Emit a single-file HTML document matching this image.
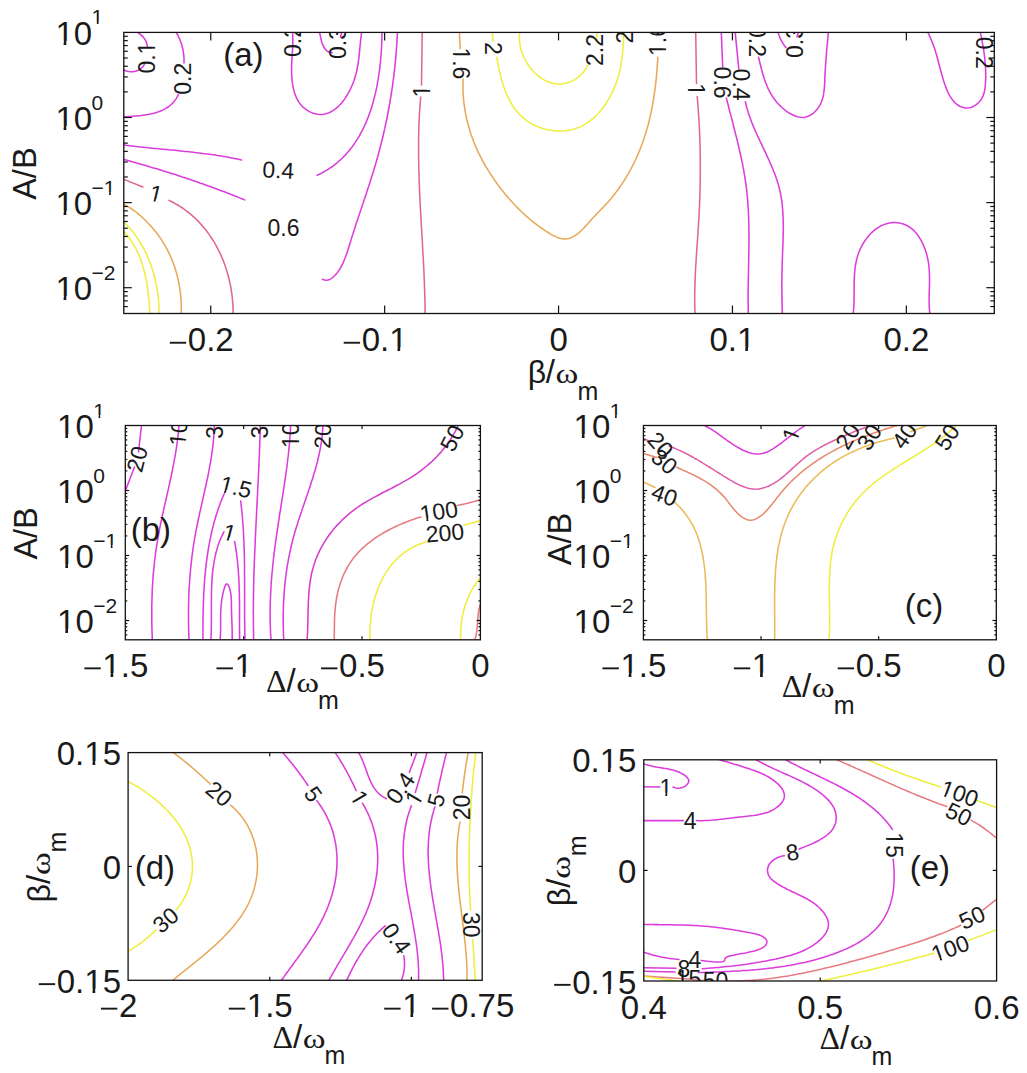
<!DOCTYPE html><html><head><meta charset="utf-8"><style>html,body{margin:0;padding:0;background:#fff;}svg{display:block;}text{font-family:"Liberation Sans",sans-serif;fill:#1a1a1a;}.g{font-family:"Liberation Serif",serif;}</style></head><body>
<svg width="1027" height="1073" viewBox="0 0 1027 1073">
<rect width="1027" height="1073" fill="#fff"/>
<defs>
<clipPath id="cpa"><rect x="123.8" y="32.4" width="870.5" height="281.1"/></clipPath>
<clipPath id="cpb"><rect x="125.3" y="425.5" width="355.1" height="214.3"/></clipPath>
<clipPath id="cpc"><rect x="643.4" y="425.5" width="352.9" height="214.3"/></clipPath>
<clipPath id="cpd"><rect x="128.1" y="752.6" width="354.1" height="227.7"/></clipPath>
<clipPath id="cpe"><rect x="643.8" y="759.8" width="352.8" height="221.2"/></clipPath>
</defs>
<g clip-path="url(#cpa)" fill="none" stroke-width="1.55" stroke-linejoin="round" stroke-linecap="round">
<path d="M137.5,32.4 L139.8,33.9 141.8,35.6 143.5,37.4 145.0,39.5 146.1,41.7 146.9,44.1 147.5,46.7" stroke="#dc3cdc"/>
<path d="M144.5,64.2 L143.2,66.2 141.6,68.0 139.7,69.4 137.7,70.5 135.5,71.3 133.1,71.7 130.8,71.8 128.4,71.6 126.2,71.0 124.0,70.0" stroke="#dc3cdc"/>
<path d="M176.1,32.4 L177.2,34.2 178.2,36.1 179.2,38.0 180.0,40.0 180.8,42.0 181.5,44.0 182.1,46.1 182.6,48.1 183.0,50.2 183.4,52.3 183.7,54.5 183.9,56.6 184.0,58.7 184.0,60.9 184.0,63.0" stroke="#dc3cdc"/>
<path d="M178.4,94.6 L177.3,96.7 176.2,98.6 174.9,100.4 173.6,102.0 172.1,103.6 170.6,105.0 169.0,106.3 167.3,107.5 165.5,108.6 163.7,109.6 161.8,110.5 159.8,111.3 157.9,112.0 155.8,112.7 153.8,113.2 151.7,113.8 149.5,114.2 147.4,114.6 145.2,114.9 143.1,115.2 140.9,115.5 138.7,115.7 136.6,115.9 134.4,116.1 132.3,116.3 130.1,116.4 128.1,116.5 126.0,116.7 124.0,116.8" stroke="#dc3cdc"/>
<path d="M124.0,145.0 L126.0,145.3 128.1,145.5 130.1,145.8 132.1,146.0 134.1,146.2 136.2,146.5 138.2,146.7 140.2,146.9 142.3,147.1 144.3,147.4 146.3,147.6 148.4,147.8 150.4,148.0 152.4,148.2 154.5,148.4 156.5,148.6 158.5,148.8 160.6,149.0 162.6,149.2 164.6,149.4 166.7,149.6 168.7,149.8 170.7,149.9 172.8,150.1 174.8,150.3 176.9,150.5 178.9,150.7 180.9,150.9 183.0,151.2 185.0,151.4 187.0,151.6 189.1,151.8 191.1,152.0 193.1,152.2 195.1,152.5 197.2,152.7 199.2,153.0 201.2,153.2 203.3,153.5 205.3,153.7 207.3,154.0 209.3,154.3 211.4,154.6 213.4,154.8 215.4,155.1 217.4,155.5 219.4,155.8 221.4,156.1 223.5,156.4 225.5,156.8 227.5,157.1 229.5,157.5 231.5,157.9 233.5,158.3 235.5,158.7 237.5,159.1 239.5,159.6 241.5,160.0" stroke="#dc3cdc"/>
<path d="M317.1,175.3 L319.0,174.4 320.9,173.5 322.8,172.5 324.6,171.4 326.4,170.4 328.2,169.3 329.9,168.2 331.6,167.0 333.3,165.8 334.9,164.6 336.4,163.3 338.0,162.0 339.5,160.7 341.0,159.3 342.4,158.0 343.8,156.5 345.2,155.1 346.6,153.6 347.9,152.1 349.2,150.6 350.4,149.1 351.7,147.5 352.8,145.9 354.0,144.2 355.1,142.6 356.2,140.9 357.3,139.2 358.4,137.5 359.4,135.8 360.4,134.0 361.3,132.2 362.3,130.4 363.2,128.6 364.1,126.8 364.9,125.0 365.7,123.1 366.6,121.2 367.3,119.3 368.1,117.4 368.8,115.5 369.5,113.5 370.2,111.6 370.9,109.6 371.5,107.6 372.1,105.7 372.7,103.7 373.3,101.7 373.8,99.6 374.3,97.6 374.8,95.6 375.3,93.6 375.8,91.5 376.2,89.5 376.7,87.4 377.1,85.4 377.5,83.3 377.8,81.2 378.2,79.2 378.5,77.1 378.8,75.0 379.1,73.0 379.4,70.9 379.7,68.8 379.9,66.8 380.1,64.7 380.4,62.6 380.6,60.6 380.7,58.5 380.9,56.5 381.1,54.4 381.2,52.4 381.4,50.3 381.5,48.3 381.6,46.3 381.7,44.3 381.8,42.3 381.8,40.3 381.9,38.3 381.9,36.3 382.0,34.4 382.0,32.4" stroke="#dc3cdc"/>
<path d="M124.0,159.5 L126.0,160.0 128.0,160.6 129.9,161.1 131.9,161.7 133.9,162.2 135.9,162.8 137.9,163.3 139.8,163.9 141.8,164.5 143.8,165.0 145.8,165.6 147.7,166.2 149.7,166.8 151.7,167.4 153.6,167.9 155.6,168.5 157.6,169.1 159.5,169.7 161.5,170.3 163.5,170.9 165.4,171.5 167.4,172.2 169.3,172.8 171.3,173.4 173.3,174.0 175.2,174.6 177.2,175.3 179.1,175.9 181.1,176.5 183.0,177.2 185.0,177.8 186.9,178.5 188.9,179.1 190.8,179.8 192.8,180.5 194.7,181.1 196.6,181.8 198.6,182.5 200.5,183.2 202.5,183.8 204.4,184.5 206.3,185.2 208.3,185.9 210.2,186.6 212.1,187.3 214.1,188.0 216.0,188.7 217.9,189.4 219.8,190.2 221.8,190.9 223.7,191.6 225.6,192.3 227.5,193.1 229.4,193.8 231.3,194.6 233.3,195.3 235.2,196.1 237.1,196.8 239.0,197.6 240.9,198.4 242.8,199.1 244.7,199.9" stroke="#dc3cdc"/>
<path d="M322.4,279.3 L324.4,280.1 326.3,280.3 328.0,280.0 329.6,279.4 331.2,278.6 332.7,277.5 334.0,276.3 335.3,275.0 336.6,273.6 337.7,272.1 338.8,270.6 339.8,269.0 340.8,267.4 341.7,265.6 342.6,263.9 343.5,262.1 344.2,260.2 345.0,258.3 345.7,256.4 346.4,254.5 347.1,252.5 347.8,250.5 348.4,248.5 349.0,246.5 349.6,244.5 350.3,242.5 350.9,240.4 351.5,238.4 352.1,236.4 352.8,234.4 353.4,232.5 354.0,230.5 354.7,228.5 355.3,226.6 355.9,224.6 356.6,222.6 357.2,220.7 357.9,218.8 358.5,216.8 359.1,214.9 359.8,213.0 360.4,211.0 361.1,209.1 361.7,207.2 362.3,205.3 363.0,203.4 363.6,201.5 364.3,199.6 364.9,197.7 365.5,195.8 366.2,193.9 366.8,192.0 367.4,190.1 368.0,188.2 368.7,186.3 369.3,184.4 369.9,182.5 370.5,180.6 371.1,178.7 371.7,176.8 372.3,174.9 372.9,173.0 373.5,171.1 374.1,169.2 374.6,167.3 375.2,165.3 375.8,163.4 376.3,161.5 376.9,159.6 377.4,157.7 378.0,155.7 378.5,153.8 379.0,151.9 379.5,149.9 380.0,148.0 380.5,146.0 381.0,144.1 381.5,142.1 382.0,140.2 382.5,138.2 383.0,136.3 383.4,134.3 383.9,132.3 384.3,130.4 384.8,128.4 385.2,126.4 385.6,124.4 386.0,122.5 386.5,120.5 386.9,118.5 387.3,116.5 387.7,114.5 388.0,112.5 388.4,110.5 388.8,108.5 389.2,106.5 389.5,104.5 389.9,102.6 390.2,100.6 390.5,98.6 390.9,96.6 391.2,94.6 391.5,92.5 391.8,90.5 392.1,88.5 392.4,86.5 392.7,84.5 392.9,82.5 393.2,80.5 393.5,78.5 393.7,76.5 394.0,74.5 394.2,72.5 394.4,70.5 394.7,68.5 394.9,66.5 395.1,64.4 395.3,62.4 395.5,60.4 395.7,58.4 395.9,56.4 396.0,54.4 396.2,52.4 396.3,50.4 396.5,48.4 396.6,46.4 396.8,44.4 396.9,42.4 397.0,40.4 397.1,38.4 397.2,36.4 397.3,34.4 397.4,32.4" stroke="#dc3cdc"/>
<path d="M124.0,179.4 L142.8,187.0" stroke="#e0659a"/>
<path d="M169.0,200.4 L170.9,201.3 172.8,202.3 174.6,203.2 176.4,204.3 178.2,205.3 179.9,206.4 181.7,207.5 183.4,208.7 185.0,209.9 186.7,211.1 188.3,212.3 189.9,213.6 191.4,214.9 193.0,216.3 194.5,217.6 195.9,219.0 197.4,220.4 198.8,221.9 200.2,223.4 201.5,224.9 202.9,226.4 204.2,228.0 205.4,229.5 206.7,231.1 207.9,232.8 209.1,234.4 210.2,236.1 211.4,237.8 212.5,239.5 213.6,241.2 214.6,242.9 215.6,244.7 216.6,246.5 217.6,248.3 218.5,250.1 219.4,251.9 220.3,253.8 221.1,255.6 221.9,257.5 222.7,259.4 223.5,261.3 224.2,263.2 224.9,265.2 225.6,267.1 226.2,269.1 226.8,271.0 227.4,273.0 228.0,275.0 228.5,277.0 229.0,279.0 229.5,281.0 229.9,283.0 230.4,285.0 230.7,287.0 231.1,289.0 231.4,291.1 231.7,293.1 232.0,295.1 232.2,297.2 232.4,299.2 232.6,301.3 232.8,303.3 232.9,305.3 233.0,307.4 233.1,309.4 233.1,311.5 233.1,313.5" stroke="#e0659a"/>
<path d="M124.0,204.5 L125.8,205.4 127.6,206.4 129.3,207.4 131.1,208.5 132.7,209.6 134.4,210.8 136.0,212.0 137.6,213.3 139.2,214.6 140.7,216.0 142.3,217.3 143.8,218.8 145.3,220.2 146.7,221.7 148.2,223.2 149.6,224.7 151.0,226.2 152.4,227.8 153.7,229.4 155.0,231.0 156.3,232.6 157.6,234.3 158.8,235.9 160.0,237.6 161.2,239.3 162.3,241.1 163.4,242.8 164.4,244.6 165.5,246.3 166.5,248.1 167.4,249.9 168.3,251.7 169.2,253.6 170.1,255.4 170.9,257.3 171.7,259.2 172.5,261.1 173.2,263.0 173.9,264.9 174.6,266.8 175.2,268.8 175.8,270.7 176.4,272.7 176.9,274.7 177.4,276.6 177.9,278.6 178.3,280.6 178.8,282.6 179.1,284.7 179.5,286.7 179.8,288.7 180.1,290.8 180.4,292.8 180.6,294.8 180.8,296.9 181.0,299.0 181.1,301.0 181.2,303.1 181.3,305.2 181.3,307.3 181.3,309.3 181.3,311.4 181.3,313.5" stroke="#e8a85a"/>
<path d="M124.0,222.3 L125.5,223.7 126.9,225.2 128.3,226.7 129.7,228.2 131.0,229.8 132.3,231.3 133.6,232.9 134.8,234.6 136.0,236.2 137.2,237.9 138.4,239.6 139.5,241.3 140.5,243.0 141.6,244.8 142.6,246.5 143.6,248.3 144.5,250.1 145.4,252.0 146.3,253.8 147.2,255.7 148.0,257.6 148.8,259.5 149.5,261.4 150.3,263.3 151.0,265.2 151.6,267.2 152.3,269.1 152.9,271.1 153.5,273.0 154.0,275.0 154.5,277.0 155.0,279.0 155.5,281.0 155.9,283.0 156.3,285.1 156.7,287.1 157.1,289.1 157.4,291.1 157.7,293.2 157.9,295.2 158.2,297.2 158.4,299.3 158.6,301.3 158.7,303.4 158.9,305.4 159.0,307.4 159.0,309.5 159.1,311.5 159.1,313.5" stroke="#eeee3c"/>
<path d="M124.0,231.7 L125.4,233.3 126.8,234.9 128.1,236.5 129.4,238.2 130.6,239.9 131.7,241.6 132.9,243.3 133.9,245.1 135.0,246.9 135.9,248.7 136.9,250.6 137.7,252.5 138.6,254.3 139.4,256.3 140.2,258.2 140.9,260.1 141.6,262.1 142.2,264.1 142.8,266.1 143.4,268.1 144.0,270.1 144.5,272.1 145.0,274.2 145.4,276.2 145.9,278.3 146.3,280.4 146.6,282.4 147.0,284.5 147.3,286.6 147.6,288.7 147.9,290.8 148.2,292.8 148.4,294.9 148.6,297.0 148.8,299.1 149.0,301.2 149.2,303.2 149.3,305.3 149.5,307.4 149.6,309.4 149.7,311.5 149.8,313.5" stroke="#eeee3c"/>
<path d="M292.6,32.4 L292.7,34.5 292.8,36.6 292.8,38.7 292.8,40.7 292.8,42.7 292.8,44.8 292.7,46.8 292.6,48.8 292.5,50.8 292.3,52.8 292.2,54.7 292.1,56.7 292.0,58.7 291.8,60.7 291.7,62.7 291.7,64.7 291.6,66.8 291.6,68.8 291.6,70.9 291.6,73.0 291.7,75.0 291.8,77.2 292.0,79.3 292.2,81.4 292.5,83.6 292.8,85.7 293.2,87.8 293.7,89.9 294.3,91.9 294.9,93.9 295.7,95.9 296.5,97.8 297.4,99.6 298.4,101.4 299.6,103.1 300.8,104.7 302.1,106.2 303.6,107.6 305.2,108.9 306.9,110.1 308.7,111.2 310.5,112.1 312.4,112.9 314.4,113.6 316.3,114.0 318.2,114.3 320.2,114.5 322.0,114.4 323.9,114.2 325.7,113.8 327.5,113.3 329.2,112.7 330.9,111.8 332.5,110.9 334.1,109.9 335.7,108.7 337.2,107.4 338.7,106.0 340.2,104.5 341.6,103.0 342.9,101.3 344.2,99.6 345.4,97.9 346.6,96.0 347.7,94.2 348.8,92.2 349.8,90.3 350.8,88.3 351.7,86.3 352.6,84.3 353.4,82.3 354.1,80.3 354.7,78.3 355.3,76.3 355.9,74.4 356.4,72.4 356.8,70.4 357.2,68.5 357.6,66.5 357.9,64.6 358.2,62.6 358.5,60.7 358.8,58.7 359.0,56.8 359.2,54.8 359.4,52.8 359.6,50.8 359.8,48.9 360.0,46.9 360.2,44.8 360.4,42.8 360.6,40.8 360.8,38.7 361.0,36.6 361.3,34.5 361.6,32.4" stroke="#dc3cdc"/>
<path d="M319.5,32.4 L320.0,34.4 320.5,36.6 321.0,39.0 321.6,41.5 322.4,43.9 323.4,46.2 324.5,48.3 326.0,50.1 327.7,51.5 329.8,52.3 332.3,52.5" stroke="#dc3cdc"/>
<path d="M340.5,37.3 L341.7,32.4" stroke="#dc3cdc"/>
<path d="M422.2,32.4 L421.5,85.0" stroke="#e0659a"/>
<path d="M420.7,97.0 L420.5,99.0 420.4,101.1 420.2,103.1 420.0,105.1 419.9,107.1 419.8,109.2 419.6,111.2 419.5,113.2 419.4,115.2 419.3,117.3 419.2,119.3 419.1,121.3 419.0,123.3 418.9,125.4 418.9,127.4 418.8,129.4 418.8,131.4 418.7,133.4 418.7,135.5 418.6,137.5 418.6,139.5 418.6,141.5 418.6,143.6 418.6,145.6 418.6,147.6 418.6,149.6 418.6,151.7 418.6,153.7 418.6,155.7 418.6,157.7 418.6,159.8 418.7,161.8 418.7,163.8 418.7,165.8 418.8,167.8 418.8,169.9 418.9,171.9 419.0,173.9 419.0,175.9 419.1,178.0 419.1,180.0 419.2,182.0 419.3,184.0 419.4,186.0 419.5,188.1 419.5,190.1 419.6,192.1 419.7,194.1 419.8,196.2 419.9,198.2 420.0,200.2 420.1,202.2 420.2,204.2 420.3,206.3 420.4,208.3 420.5,210.3 420.6,212.3 420.8,214.4 420.9,216.4 421.0,218.4 421.1,220.4 421.2,222.4 421.3,224.5 421.4,226.5 421.6,228.5 421.7,230.5 421.8,232.6 421.9,234.6 422.0,236.6 422.1,238.6 422.3,240.6 422.4,242.7 422.5,244.7 422.6,246.7 422.7,248.7 422.8,250.8 422.9,252.8 423.0,254.8 423.2,256.8 423.3,258.8 423.4,260.9 423.5,262.9 423.6,264.9 423.7,266.9 423.8,269.0 423.9,271.0 424.0,273.0 424.1,275.0 424.1,277.1 424.2,279.1 424.3,281.1 424.4,283.1 424.5,285.2 424.5,287.2 424.6,289.2 424.7,291.2 424.7,293.2 424.8,295.3 424.8,297.3 424.9,299.3 424.9,301.3 425.0,303.4 425.0,305.4 425.0,307.4 425.1,309.4 425.1,311.5 425.1,313.5" stroke="#e0659a"/>
<path d="M459.4,32.4 L460.2,48.4" stroke="#e8a85a"/>
<path d="M463.1,79.1 L463.0,81.2 463.0,83.2 462.9,85.3 462.9,87.4 463.0,89.4 463.0,91.5 463.1,93.5 463.3,95.6 463.4,97.6 463.6,99.6 463.8,101.6 464.0,103.6 464.3,105.6 464.6,107.6 464.9,109.6 465.2,111.6 465.6,113.6 466.0,115.6 466.4,117.5 466.8,119.5 467.3,121.4 467.8,123.4 468.3,125.3 468.8,127.2 469.4,129.2 470.0,131.1 470.6,133.0 471.2,134.9 471.9,136.8 472.6,138.6 473.3,140.5 474.0,142.4 474.8,144.2 475.5,146.1 476.3,147.9 477.1,149.7 478.0,151.5 478.8,153.4 479.7,155.2 480.6,156.9 481.5,158.7 482.5,160.5 483.4,162.3 484.4,164.0 485.4,165.8 486.4,167.5 487.4,169.2 488.5,170.9 489.6,172.6 490.7,174.3 491.8,176.0 492.9,177.7 494.0,179.4 495.2,181.0 496.4,182.7 497.5,184.3 498.7,185.9 500.0,187.5 501.2,189.1 502.5,190.7 503.7,192.3 505.0,193.9 506.3,195.4 507.6,197.0 508.9,198.5 510.3,200.0 511.6,201.5 513.0,203.0 514.4,204.5 515.8,206.0 517.2,207.4 518.6,208.9 520.1,210.3 521.5,211.7 523.0,213.1 524.5,214.5 526.0,215.8 527.5,217.2 529.1,218.5 530.6,219.8 532.2,221.1 533.8,222.4 535.4,223.7 537.0,224.9 538.6,226.1 540.3,227.3 542.0,228.5 543.7,229.7 545.4,230.8 547.1,231.9 548.8,233.0 550.6,234.1 552.4,235.1 554.2,236.0 556.0,236.9 557.8,237.6 559.6,238.2 561.4,238.6 563.2,238.9 565.1,238.9 566.9,238.8 568.7,238.4 570.5,237.9 572.2,237.1 573.9,236.3 575.6,235.2 577.2,234.1 578.8,232.8 580.4,231.4 581.9,230.0 583.4,228.5 584.9,226.9 586.4,225.3 587.8,223.7 589.3,222.0 590.7,220.4 592.1,218.8 593.6,217.3 595.0,215.8 596.4,214.3 597.8,212.8 599.2,211.4 600.6,210.0 601.9,208.6 603.3,207.2 604.7,205.8 606.0,204.3 607.3,202.9 608.6,201.4 609.9,199.9 611.2,198.4 612.5,196.8 613.7,195.3 614.9,193.7 616.1,192.1 617.3,190.5 618.5,188.9 619.7,187.2 620.8,185.6 622.0,183.9 623.1,182.2 624.2,180.5 625.2,178.8 626.3,177.1 627.3,175.3 628.4,173.6 629.4,171.8 630.3,170.0 631.3,168.3 632.2,166.5 633.2,164.6 634.1,162.8 635.0,161.0 635.8,159.2 636.7,157.3 637.5,155.5 638.3,153.6 639.1,151.8 639.8,149.9 640.6,148.0 641.3,146.1 642.0,144.2 642.7,142.3 643.4,140.4 644.0,138.5 644.6,136.6 645.2,134.7 645.8,132.7 646.4,130.8 647.0,128.9 647.5,126.9 648.1,125.0 648.6,123.0 649.1,121.1 649.5,119.1 650.0,117.2 650.5,115.2 650.9,113.2 651.3,111.2 651.7,109.3 652.1,107.3 652.5,105.3 652.8,103.3 653.2,101.3 653.5,99.3 653.8,97.3 654.1,95.3 654.4,93.3 654.7,91.3 655.0,89.3 655.2,87.3 655.5,85.3 655.7,83.3 655.9,81.3 656.2,79.3 656.4,77.3 656.5,75.3 656.7,73.3 656.9,71.2 657.0,69.2 657.2,67.2 657.3,65.2 657.5,63.2 657.6,61.2 657.7,59.2 657.8,57.2" stroke="#e8a85a"/>
<path d="M492.3,32.4 L493.0,41.1" stroke="#eeee3c"/>
<path d="M496.7,57.2 L497.0,59.1 497.4,60.9 497.7,62.8 498.1,64.8 498.5,66.7 498.9,68.7 499.3,70.7 499.8,72.7 500.3,74.7 500.8,76.7 501.3,78.7 501.9,80.7 502.5,82.7 503.1,84.7 503.8,86.7 504.5,88.7 505.2,90.7 506.0,92.6 506.8,94.6 507.7,96.5 508.6,98.3 509.5,100.2 510.5,102.0 511.6,103.8 512.6,105.5 513.8,107.3 514.9,108.9 516.2,110.5 517.5,112.1 518.8,113.6 520.2,115.1 521.7,116.5 523.2,117.8 524.7,119.1 526.4,120.3 528.0,121.5 529.7,122.6 531.5,123.6 533.3,124.6 535.1,125.5 537.0,126.3 538.9,127.1 540.8,127.8 542.7,128.4 544.7,129.0 546.7,129.5 548.7,129.9 550.7,130.3 552.7,130.5 554.7,130.8 556.7,130.9 558.7,131.0 560.7,131.0 562.7,130.9 564.7,130.8 566.7,130.6 568.7,130.3 570.6,129.9 572.5,129.4 574.4,128.9 576.3,128.3 578.1,127.6 579.9,126.9 581.7,126.1 583.4,125.2 585.1,124.2 586.7,123.2 588.4,122.1 590.0,120.9 591.5,119.7 593.0,118.4 594.5,117.1 596.0,115.7 597.4,114.3 598.8,112.8 600.1,111.2 601.4,109.7 602.7,108.1 603.9,106.4 605.1,104.7 606.3,103.0 607.4,101.2 608.5,99.4 609.5,97.6 610.5,95.7 611.5,93.9 612.4,92.0 613.3,90.0 614.1,88.1 614.9,86.2 615.7,84.2 616.4,82.2 617.1,80.2 617.8,78.3 618.4,76.3 618.9,74.3 619.4,72.3 619.9,70.3 620.3,68.3 620.7,66.3 621.1,64.3 621.4,62.3 621.7,60.3 622.0,58.3 622.2,56.4 622.4,54.4 622.6,52.4 622.8,50.4 623.0,48.4 623.1,46.4 623.2,44.4 623.4,42.4 623.5,40.4 623.6,38.4 623.7,36.4 623.9,34.4 624.0,32.4" stroke="#eeee3c"/>
<path d="M519.7,32.4 L519.5,34.4 519.4,36.5 519.4,38.5 519.5,40.6 519.7,42.7 520.0,44.8 520.4,46.8 520.9,48.9 521.4,51.0 522.1,53.0 522.9,55.0 523.7,57.0 524.7,58.9 525.7,60.8 526.7,62.7 527.9,64.5 529.1,66.3 530.4,68.0 531.8,69.6 533.2,71.2 534.6,72.7 536.2,74.2 537.7,75.5 539.3,76.8 541.0,78.0 542.7,79.1 544.5,80.1 546.3,81.0 548.1,81.8 549.9,82.5 551.8,83.0 553.7,83.4 555.6,83.8 557.6,83.9 559.5,84.0 561.5,83.9 563.5,83.7 565.5,83.3 567.4,82.8 569.3,82.2 571.2,81.4 573.1,80.6 574.9,79.6 576.6,78.4 578.3,77.2 579.9,75.8 581.5,74.3 582.9,72.7 584.3,71.0 585.5,69.2 586.6,67.2 587.6,65.2" stroke="#eeee3c"/>
<path d="M596.4,41.1 L597.1,32.4" stroke="#eeee3c"/>
<path d="M695.7,32.4 L696.5,83.5" stroke="#e0659a"/>
<path d="M697.2,96.6 L697.4,98.6 697.6,100.7 697.7,102.7 697.9,104.7 698.0,106.7 698.2,108.8 698.3,110.8 698.5,112.8 698.6,114.9 698.8,116.9 698.9,118.9 699.0,120.9 699.1,123.0 699.2,125.0 699.3,127.0 699.4,129.1 699.5,131.1 699.6,133.1 699.7,135.1 699.8,137.2 699.9,139.2 699.9,141.2 700.0,143.2 700.0,145.3 700.1,147.3 700.1,149.3 700.2,151.3 700.2,153.4 700.2,155.4 700.3,157.4 700.3,159.4 700.3,161.5 700.3,163.5 700.3,165.5 700.3,167.5 700.3,169.6 700.3,171.6 700.3,173.6 700.3,175.6 700.3,177.7 700.2,179.7 700.2,181.7 700.2,183.7 700.1,185.8 700.1,187.8 700.0,189.8 700.0,191.8 699.9,193.9 699.9,195.9 699.8,197.9 699.7,200.0 699.6,202.0 699.6,204.0 699.5,206.0 699.4,208.1 699.3,210.1 699.2,212.1 699.1,214.1 699.0,216.2 698.9,218.2 698.8,220.2 698.6,222.2 698.5,224.3 698.4,226.3 698.2,228.3 698.1,230.3 698.0,232.4 697.8,234.4 697.7,236.4 697.6,238.4 697.4,240.5 697.3,242.5 697.2,244.5 697.0,246.5 696.9,248.6 696.7,250.6 696.6,252.6 696.5,254.6 696.3,256.7 696.2,258.7 696.1,260.7 696.0,262.8 695.8,264.8 695.7,266.8 695.6,268.8 695.5,270.9 695.4,272.9 695.3,274.9 695.2,277.0 695.1,279.0 695.1,281.0 695.0,283.0 694.9,285.1 694.9,287.1 694.8,289.1 694.8,291.2 694.8,293.2 694.7,295.2 694.7,297.2 694.7,299.3 694.7,301.3 694.7,303.3 694.8,305.4 694.8,307.4 694.9,309.4 694.9,311.5 695.0,313.5" stroke="#e0659a"/>
<path d="M721.3,32.4 L722.7,67.0" stroke="#dc3cdc"/>
<path d="M726.4,98.1 L726.9,100.1 727.4,102.1 727.9,104.0 728.4,106.0 728.9,108.0 729.4,110.0 729.9,111.9 730.4,113.9 731.0,115.9 731.5,117.9 732.0,119.8 732.5,121.8 733.0,123.8 733.5,125.8 734.0,127.7 734.5,129.7 735.0,131.7 735.5,133.7 736.0,135.6 736.5,137.6 737.0,139.6 737.5,141.6 738.0,143.6 738.4,145.5 738.9,147.5 739.4,149.5 739.8,151.5 740.3,153.5 740.7,155.5 741.1,157.5 741.6,159.4 742.0,161.4 742.4,163.4 742.8,165.4 743.1,167.4 743.5,169.4 743.9,171.4 744.2,173.4 744.6,175.4 744.9,177.4 745.2,179.4 745.5,181.4 745.8,183.4 746.1,185.4 746.3,187.4 746.6,189.4 746.8,191.4 747.0,193.4 747.2,195.5 747.4,197.5 747.6,199.5 747.7,201.5 747.9,203.5 748.0,205.6 748.2,207.6 748.3,209.6 748.4,211.6 748.5,213.7 748.6,215.7 748.6,217.7 748.7,219.8 748.8,221.8 748.8,223.8 748.9,225.9 748.9,227.9 748.9,229.9 748.9,232.0 749.0,234.0 749.0,236.0 749.0,238.1 749.0,240.1 749.0,242.2 748.9,244.2 748.9,246.2 748.9,248.3 748.9,250.3 748.8,252.4 748.8,254.4 748.8,256.4 748.7,258.5 748.7,260.5 748.7,262.6 748.6,264.6 748.6,266.6 748.5,268.7 748.5,270.7 748.5,272.8 748.4,274.8 748.4,276.9 748.3,278.9 748.3,280.9 748.3,283.0 748.2,285.0 748.2,287.1 748.2,289.1 748.2,291.1 748.1,293.2 748.1,295.2 748.1,297.2 748.1,299.3 748.1,301.3 748.1,303.3 748.2,305.4 748.2,307.4 748.2,309.4 748.3,311.5 748.3,313.5" stroke="#dc3cdc"/>
<path d="M735.2,32.4 L738.8,68.9" stroke="#dc3cdc"/>
<path d="M745.4,101.8 L745.8,103.8 746.3,105.7 746.8,107.7 747.4,109.6 748.0,111.6 748.6,113.5 749.2,115.4 749.9,117.3 750.6,119.2 751.3,121.1 752.0,123.0 752.8,124.9 753.5,126.7 754.3,128.6 755.1,130.5 756.0,132.3 756.8,134.2 757.6,136.0 758.5,137.9 759.4,139.7 760.2,141.6 761.1,143.4 762.0,145.2 762.8,147.1 763.7,148.9 764.6,150.8 765.5,152.6 766.3,154.4 767.2,156.3 768.0,158.1 768.9,160.0 769.7,161.8 770.5,163.7 771.3,165.5 772.1,167.4 772.9,169.2 773.6,171.1 774.4,173.0 775.1,174.8 775.8,176.7 776.4,178.6 777.1,180.5 777.7,182.4 778.2,184.3 778.8,186.2 779.3,188.2 779.7,190.1 780.2,192.0 780.6,194.0 780.9,195.9 781.3,197.9 781.6,199.9 781.9,201.9 782.1,203.9 782.3,205.9 782.5,207.9 782.7,209.9 782.8,211.9 782.9,213.9 783.0,215.9 783.1,217.9 783.2,220.0 783.2,222.0 783.3,224.0 783.3,226.1 783.3,228.1 783.3,230.2 783.2,232.2 783.2,234.3 783.2,236.3 783.1,238.4 783.0,240.4 783.0,242.5 782.9,244.5 782.8,246.6 782.7,248.6 782.7,250.7 782.6,252.8 782.5,254.8 782.4,256.8 782.4,258.9 782.3,260.9 782.2,263.0 782.2,265.0 782.1,267.0 782.1,269.1 782.0,271.1 782.0,273.1 781.9,275.2 781.9,277.2 781.9,279.2 781.9,281.2 781.9,283.3 781.8,285.3 781.8,287.3 781.9,289.3 781.9,291.3 781.9,293.4 781.9,295.4 781.9,297.4 782.0,299.4 782.0,301.4 782.1,303.4 782.1,305.4 782.2,307.5 782.2,309.5 782.3,311.5 782.4,313.5" stroke="#dc3cdc"/>
<path d="M758.5,57.2 L759.0,59.2 759.5,61.3 760.0,63.3 760.5,65.3 761.0,67.3 761.5,69.3 762.1,71.3 762.6,73.2 763.2,75.2 763.8,77.1 764.4,79.0 765.1,80.9 765.7,82.8 766.5,84.6 767.2,86.5 768.0,88.3 768.9,90.1 769.8,91.8 770.8,93.6 771.8,95.3 772.9,97.0 774.0,98.6 775.2,100.3 776.5,101.9 777.9,103.5 779.4,105.0 780.9,106.5 782.5,108.0 784.2,109.4 785.9,110.8 787.7,112.1 789.6,113.3 791.5,114.3 793.4,115.3 795.3,116.0 797.3,116.7 799.2,117.1 801.1,117.3 803.0,117.4 804.8,117.2 806.6,116.8 808.3,116.2 810.0,115.4 811.6,114.4 813.2,113.3 814.6,112.0 816.0,110.6 817.3,109.0 818.5,107.4 819.6,105.7 820.6,103.8 821.4,102.0 822.1,100.0 822.7,98.0 823.2,96.0 823.6,93.9 823.9,91.8 824.2,89.7 824.4,87.5 824.5,85.4 824.7,83.3 824.8,81.1 824.8,79.0 824.9,76.9 825.0,74.8 825.1,72.8 825.2,70.8 825.4,68.7 825.5,66.7 825.6,64.7 825.7,62.8 825.9,60.8 826.0,58.8 826.2,56.8 826.3,54.8 826.5,52.9 826.6,50.9 826.8,48.9 827.0,46.9 827.2,44.9 827.4,42.8 827.6,40.8 827.8,38.7 828.0,36.6 828.2,34.5 828.4,32.4" stroke="#dc3cdc"/>
<path d="M778.0,32.4 L778.8,34.8 779.7,37.1 780.7,39.3 781.8,41.5 783.1,43.7 784.5,45.7 786.0,47.7" stroke="#dc3cdc"/>
<path d="M797.0,36.8 L798.5,32.4" stroke="#dc3cdc"/>
<path d="M853.2,313.5 L853.4,311.5 853.6,309.5 853.8,307.5 853.9,305.5 854.0,303.5 854.0,301.5 854.1,299.4 854.1,297.4 854.1,295.4 854.1,293.3 854.1,291.3 854.1,289.3 854.1,287.2 854.2,285.2 854.2,283.2 854.2,281.1 854.3,279.1 854.3,277.1 854.5,275.1 854.6,273.0 854.8,271.0 855.0,269.0 855.2,267.0 855.5,265.0 855.9,263.0 856.3,261.1 856.7,259.1 857.3,257.1 857.9,255.2 858.5,253.3 859.3,251.3 860.1,249.4 861.0,247.5 861.9,245.7 863.0,243.8 864.1,242.0 865.2,240.3 866.5,238.6 867.8,236.9 869.1,235.3 870.6,233.8 872.0,232.3 873.6,230.9 875.1,229.7 876.8,228.4 878.5,227.3 880.2,226.3 882.0,225.4 883.8,224.6 885.6,223.9 887.5,223.4 889.5,223.0 891.5,222.7 893.5,222.5 895.5,222.5 897.5,222.7 899.5,223.0 901.4,223.4 903.3,224.0 905.1,224.7 906.8,225.5 908.5,226.4 910.1,227.5 911.6,228.7 913.1,229.9 914.5,231.3 915.8,232.7 917.1,234.3 918.3,235.9 919.4,237.6 920.5,239.3 921.5,241.2 922.4,243.0 923.3,244.9 924.1,246.9 924.9,248.8 925.6,250.9 926.2,252.9 926.8,254.9 927.3,257.0 927.8,259.0 928.2,261.1 928.5,263.1 928.8,265.2 929.0,267.2 929.2,269.2 929.3,271.2 929.4,273.2 929.5,275.2 929.5,277.2 929.5,279.2 929.5,281.2 929.5,283.2 929.5,285.2 929.4,287.2 929.3,289.2 929.3,291.2 929.2,293.2 929.2,295.2 929.2,297.2 929.1,299.2 929.1,301.2 929.2,303.3 929.2,305.3 929.3,307.3 929.4,309.4 929.6,311.4 929.8,313.5" stroke="#dc3cdc"/>
<path d="M927.8,32.4 L928.8,34.4 929.7,36.3 930.6,38.3 931.4,40.2 932.2,42.1 932.9,43.9 933.6,45.8 934.3,47.7 934.9,49.5 935.5,51.4 936.0,53.2 936.6,55.1 937.1,57.0 937.6,58.8 938.1,60.7 938.6,62.6 939.1,64.5 939.6,66.4 940.1,68.3 940.6,70.3 941.2,72.3 941.7,74.3 942.3,76.3 942.9,78.4 943.5,80.5 944.2,82.6 944.9,84.7 945.7,86.8 946.5,88.9 947.3,90.9 948.2,92.9 949.2,94.8 950.3,96.6 951.4,98.4 952.6,100.0 953.9,101.6 955.2,103.0 956.7,104.2 958.2,105.3 959.9,106.2 961.6,107.0 963.4,107.6 965.3,107.9 967.1,108.0 969.0,107.8 970.8,107.4 972.6,106.8 974.3,105.9 975.9,104.9 977.5,103.7 978.9,102.3 980.2,100.8 981.4,99.1 982.4,97.4 983.2,95.5 983.9,93.5 984.4,91.5 984.8,89.4 985.1,87.3 985.3,85.2 985.5,83.0 985.6,80.9 985.7,78.8 985.7,76.7 985.7,74.6 985.7,72.5 985.6,70.4 985.6,68.4 985.4,66.4 985.3,64.3 985.1,62.3 985.0,60.3 984.8,58.3 984.5,56.3 984.3,54.3 984.0,52.3 983.7,50.4 983.4,48.4 983.1,46.4 982.7,44.4 982.3,42.4 982.0,40.4 981.6,38.4 981.2,36.4 980.7,34.4 980.3,32.4" stroke="#dc3cdc"/>
</g>
<g clip-path="url(#cpb)" fill="none" stroke-width="1.55" stroke-linejoin="round" stroke-linecap="round">
<path d="M141.5,425.7 L138.5,452.0" stroke="#dc3cdc"/>
<path d="M134.5,467.0 L125.3,490.9" stroke="#dc3cdc"/>
<path d="M178.9,425.7 L178.8,427.7 178.6,429.7 178.4,431.7 178.2,433.8 178.0,435.8 177.8,437.8 177.5,439.8 177.3,441.8 177.0,443.8 176.7,445.8 176.4,447.8 176.1,449.8 175.8,451.8 175.5,453.7 175.1,455.7 174.8,457.7 174.4,459.7 174.0,461.7 173.7,463.7 173.3,465.7 172.9,467.6 172.5,469.6 172.1,471.6 171.7,473.6 171.3,475.6 170.9,477.5 170.4,479.5 170.0,481.5 169.6,483.5 169.1,485.4 168.7,487.4 168.3,489.4 167.8,491.4 167.4,493.3 166.9,495.3 166.5,497.3 166.0,499.3 165.6,501.2 165.1,503.2 164.7,505.2 164.3,507.1 163.8,509.1 163.4,511.1 162.9,513.1 162.5,515.0 162.1,517.0 161.7,519.0 161.2,521.0 160.8,523.0 160.4,524.9 160.0,526.9 159.6,528.9 159.3,530.9 158.9,532.9 158.5,534.8 158.1,536.8 157.8,538.8 157.5,540.8 157.1,542.8 156.8,544.8 156.5,546.8 156.2,548.8 155.9,550.8 155.6,552.8 155.4,554.8 155.1,556.8 154.9,558.8 154.6,560.8 154.4,562.8 154.2,564.8 154.0,566.8 153.8,568.8 153.6,570.8 153.4,572.8 153.2,574.8 153.1,576.8 152.9,578.9 152.8,580.9 152.7,582.9 152.6,584.9 152.4,586.9 152.3,588.9 152.2,591.0 152.2,593.0 152.1,595.0 152.0,597.0 152.0,599.0 151.9,601.1 151.9,603.1 151.8,605.1 151.8,607.1 151.8,609.2 151.8,611.2 151.8,613.2 151.8,615.3 151.8,617.3 151.8,619.3 151.8,621.3 151.8,623.4 151.9,625.4 151.9,627.4 152.0,629.5 152.0,631.5 152.1,633.5 152.2,635.5 152.2,637.6 152.3,639.6" stroke="#dc3cdc"/>
<path d="M214.3,425.7 L214.3,427.7 214.2,429.7 214.1,431.8 214.0,433.8 213.8,435.8 213.7,437.8 213.5,439.8 213.3,441.8 213.1,443.8 212.9,445.8 212.6,447.8 212.4,449.8 212.1,451.8 211.8,453.8 211.5,455.8 211.2,457.8 210.9,459.8 210.6,461.8 210.2,463.7 209.9,465.7 209.5,467.7 209.1,469.7 208.8,471.7 208.4,473.6 208.0,475.6 207.6,477.6 207.1,479.6 206.7,481.6 206.3,483.5 205.9,485.5 205.4,487.5 205.0,489.4 204.6,491.4 204.1,493.4 203.7,495.4 203.2,497.3 202.8,499.3 202.3,501.3 201.9,503.3 201.5,505.2 201.0,507.2 200.6,509.2 200.1,511.1 199.7,513.1 199.3,515.1 198.8,517.1 198.4,519.0 198.0,521.0 197.6,523.0 197.2,525.0 196.8,527.0 196.4,528.9 196.0,530.9 195.6,532.9 195.3,534.9 194.9,536.9 194.6,538.9 194.2,540.9 193.9,542.8 193.6,544.8 193.3,546.8 193.0,548.8 192.7,550.8 192.5,552.8 192.2,554.8 191.9,556.8 191.7,558.8 191.5,560.8 191.2,562.8 191.0,564.8 190.8,566.8 190.6,568.8 190.4,570.9 190.3,572.9 190.1,574.9 189.9,576.9 189.8,578.9 189.6,580.9 189.5,582.9 189.4,584.9 189.2,587.0 189.1,589.0 189.0,591.0 188.9,593.0 188.9,595.0 188.8,597.1 188.7,599.1 188.7,601.1 188.6,603.1 188.6,605.1 188.5,607.2 188.5,609.2 188.5,611.2 188.5,613.2 188.5,615.3 188.5,617.3 188.5,619.3 188.5,621.3 188.5,623.4 188.6,625.4 188.6,627.4 188.7,629.5 188.7,631.5 188.8,633.5 188.8,635.5 188.9,637.6 189.0,639.6" stroke="#dc3cdc"/>
<path d="M202.9,639.6 L202.9,637.6 202.9,635.6 202.9,633.5 202.9,631.5 202.9,629.5 202.9,627.4 203.0,625.4 203.0,623.4 203.0,621.4 203.0,619.3 203.0,617.3 203.1,615.3 203.1,613.2 203.2,611.2 203.2,609.2 203.3,607.1 203.3,605.1 203.4,603.1 203.5,601.0 203.6,599.0 203.6,597.0 203.7,594.9 203.8,592.9 203.9,590.9 204.1,588.9 204.2,586.8 204.3,584.8 204.4,582.8 204.6,580.7 204.8,578.7 204.9,576.7 205.1,574.7 205.3,572.7 205.5,570.6 205.7,568.6 205.9,566.6 206.1,564.6 206.4,562.6 206.6,560.6 206.9,558.6 207.2,556.6 207.5,554.6 207.8,552.6 208.1,550.6 208.4,548.6 208.8,546.6 209.1,544.6 209.5,542.6 209.9,540.6 210.3,538.6 210.7,536.7 211.1,534.7 211.5,532.7 212.0,530.7 212.5,528.8 213.0,526.8 213.5,524.9 214.0,522.9 214.5,520.9 215.1,519.0 215.7,517.1 216.2,515.1 216.9,513.2 217.5,511.3 218.1,509.3 218.8,507.4 219.5,505.5 220.2,503.6 220.9,501.7 221.6,499.8 222.4,497.9 223.2,496.0 224.0,494.1 224.8,492.2" stroke="#dc3cdc"/>
<path d="M240.7,501.0 L241.0,503.0 241.2,505.1 241.4,507.1 241.6,509.1 241.8,511.1 242.0,513.2 242.2,515.2 242.4,517.2 242.6,519.3 242.7,521.3 242.9,523.3 243.0,525.4 243.2,527.4 243.3,529.4 243.4,531.5 243.5,533.5 243.6,535.5 243.7,537.6 243.8,539.6 243.9,541.6 244.0,543.7 244.0,545.7 244.1,547.8 244.2,549.8 244.2,551.8 244.3,553.9 244.3,555.9 244.4,558.0 244.4,560.0 244.4,562.0 244.5,564.1 244.5,566.1 244.5,568.2 244.5,570.2 244.5,572.2 244.5,574.3 244.6,576.3 244.6,578.4 244.6,580.4 244.6,582.5 244.6,584.5 244.6,586.5 244.6,588.6 244.6,590.6 244.6,592.7 244.6,594.7 244.6,596.8 244.6,598.8 244.6,600.8 244.6,602.9 244.6,604.9 244.6,607.0 244.6,609.0 244.6,611.0 244.6,613.1 244.6,615.1 244.6,617.2 244.6,619.2 244.7,621.2 244.7,623.3 244.7,625.3 244.7,627.4 244.8,629.4 244.8,631.4 244.8,633.5 244.9,635.5 244.9,637.6 245.0,639.6" stroke="#dc3cdc"/>
<path d="M210.9,639.6 L211.0,637.6 211.1,635.5 211.2,633.5 211.2,631.4 211.3,629.4 211.3,627.3 211.3,625.3 211.4,623.2 211.4,621.1 211.4,619.0 211.4,617.0 211.4,614.9 211.4,612.8 211.4,610.7 211.4,608.6 211.4,606.5 211.4,604.4 211.4,602.4 211.4,600.3 211.4,598.2 211.4,596.1 211.4,594.0 211.5,591.9 211.5,589.8 211.6,587.7 211.7,585.7 211.8,583.6 211.9,581.5 212.0,579.4 212.2,577.4 212.3,575.3 212.5,573.3 212.7,571.2 213.0,569.2 213.3,567.1 213.6,565.1 213.9,563.1 214.2,561.0 214.6,559.0 215.0,557.0 215.5,555.0 215.9,553.0 216.5,551.0 217.0,549.1 217.6,547.1 218.2,545.2 218.9,543.2 219.6,541.3 220.4,539.4 221.2,537.5 222.1,535.6 223.0,533.7 223.9,531.8" stroke="#dc3cdc"/>
<path d="M234.6,541.5 L235.0,543.5 235.3,545.5 235.7,547.6 236.0,549.6 236.3,551.6 236.6,553.7 236.8,555.7 237.1,557.7 237.3,559.8 237.5,561.8 237.7,563.8 237.9,565.9 238.1,567.9 238.3,569.9 238.4,572.0 238.5,574.0 238.7,576.1 238.8,578.1 238.9,580.2 239.0,582.2 239.1,584.3 239.1,586.3 239.2,588.4 239.3,590.4 239.3,592.5 239.4,594.5 239.4,596.6 239.4,598.6 239.5,600.7 239.5,602.7 239.5,604.8 239.5,606.8 239.5,608.9 239.5,610.9 239.5,613.0 239.5,615.0 239.5,617.1 239.5,619.1 239.5,621.2 239.5,623.2 239.5,625.3 239.5,627.3 239.5,629.4 239.5,631.4 239.6,633.5 239.6,635.5 239.6,637.6 239.6,639.6" stroke="#dc3cdc"/>
<path d="M220.2,639.6 L220.3,637.4 220.4,635.3 220.5,633.2 220.6,631.1 220.6,629.0 220.6,627.0 220.6,625.0 220.6,623.0 220.6,621.0 220.6,619.0 220.6,617.0 220.6,615.0 220.7,613.0 220.8,611.0 220.9,609.0 221.0,606.9 221.2,604.9 221.4,602.8 221.7,600.6 222.0,598.5 222.4,596.3 222.8,594.1 223.3,591.8 223.9,589.6 224.6,587.4 225.3,585.6 226.0,584.3 226.8,583.9 227.7,584.4 228.5,585.7 229.3,587.5 229.9,589.5 230.4,591.5 230.8,593.7 231.1,595.8 231.2,598.0 231.3,600.2 231.4,602.4 231.4,604.6 231.4,606.8 231.5,608.9 231.5,611.0 231.6,613.1 231.6,615.1 231.7,617.1 231.8,619.1 231.9,621.1 231.9,623.0 232.0,625.0 232.1,627.0 232.1,629.0 232.2,631.1 232.2,633.1 232.2,635.3 232.2,637.4 232.2,639.6" stroke="#dc3cdc"/>
<path d="M260.3,425.7 L260.3,427.7 260.2,429.7 260.1,431.8 260.1,433.8 260.0,435.8 260.0,437.8 259.9,439.8 259.8,441.8 259.8,443.9 259.7,445.9 259.6,447.9 259.5,449.9 259.5,451.9 259.4,454.0 259.3,456.0 259.2,458.0 259.1,460.0 259.0,462.0 259.0,464.0 258.9,466.1 258.8,468.1 258.7,470.1 258.6,472.1 258.5,474.1 258.4,476.1 258.3,478.2 258.2,480.2 258.1,482.2 258.0,484.2 257.9,486.2 257.8,488.2 257.7,490.3 257.6,492.3 257.5,494.3 257.4,496.3 257.3,498.3 257.2,500.3 257.1,502.4 257.0,504.4 256.9,506.4 256.8,508.4 256.7,510.4 256.6,512.4 256.5,514.5 256.4,516.5 256.3,518.5 256.2,520.5 256.1,522.5 256.0,524.5 255.9,526.6 255.8,528.6 255.7,530.6 255.6,532.6 255.5,534.6 255.4,536.6 255.3,538.7 255.2,540.7 255.2,542.7 255.1,544.7 255.0,546.7 254.9,548.7 254.8,550.8 254.7,552.8 254.6,554.8 254.6,556.8 254.5,558.8 254.4,560.9 254.3,562.9 254.3,564.9 254.2,566.9 254.1,568.9 254.1,570.9 254.0,573.0 253.9,575.0 253.9,577.0 253.8,579.0 253.8,581.0 253.7,583.0 253.7,585.1 253.6,587.1 253.6,589.1 253.6,591.1 253.5,593.1 253.5,595.2 253.5,597.2 253.4,599.2 253.4,601.2 253.4,603.2 253.4,605.3 253.4,607.3 253.4,609.3 253.3,611.3 253.3,613.3 253.4,615.4 253.4,617.4 253.4,619.4 253.4,621.4 253.4,623.4 253.4,625.5 253.4,627.5 253.5,629.5 253.5,631.5 253.6,633.5 253.6,635.6 253.6,637.6 253.7,639.6" stroke="#dc3cdc"/>
<path d="M290.6,425.7 L290.5,427.7 290.4,429.7 290.3,431.8 290.2,433.8 290.0,435.8 289.9,437.8 289.7,439.8 289.6,441.9 289.4,443.9 289.2,445.9 289.0,447.9 288.8,449.9 288.6,451.9 288.4,454.0 288.2,456.0 287.9,458.0 287.7,460.0 287.5,462.0 287.2,464.0 287.0,466.0 286.7,468.0 286.4,470.0 286.2,472.1 285.9,474.1 285.6,476.1 285.3,478.1 285.0,480.1 284.7,482.1 284.4,484.1 284.1,486.1 283.8,488.1 283.5,490.1 283.2,492.1 282.9,494.1 282.6,496.2 282.3,498.2 281.9,500.2 281.6,502.2 281.3,504.2 281.0,506.2 280.7,508.2 280.4,510.2 280.0,512.2 279.7,514.2 279.4,516.2 279.1,518.2 278.8,520.2 278.5,522.3 278.2,524.3 277.9,526.3 277.6,528.3 277.3,530.3 277.0,532.3 276.7,534.3 276.4,536.3 276.1,538.3 275.8,540.3 275.5,542.4 275.3,544.4 275.0,546.4 274.7,548.4 274.5,550.4 274.2,552.4 274.0,554.4 273.8,556.4 273.5,558.5 273.3,560.5 273.1,562.5 272.9,564.5 272.7,566.5 272.5,568.5 272.3,570.6 272.1,572.6 271.9,574.6 271.7,576.6 271.6,578.6 271.4,580.7 271.3,582.7 271.1,584.7 271.0,586.7 270.9,588.8 270.8,590.8 270.7,592.8 270.6,594.8 270.5,596.9 270.4,598.9 270.3,600.9 270.3,603.0 270.2,605.0 270.2,607.0 270.2,609.0 270.1,611.1 270.1,613.1 270.1,615.1 270.1,617.2 270.2,619.2 270.2,621.2 270.2,623.3 270.3,625.3 270.4,627.4 270.4,629.4 270.5,631.4 270.6,633.5 270.7,635.5 270.9,637.6 271.0,639.6" stroke="#dc3cdc"/>
<path d="M322.9,425.7 L322.8,427.7 322.7,429.8 322.5,431.8 322.4,433.8 322.1,435.9 321.9,437.9 321.6,439.9 321.4,441.9 321.1,443.9 320.7,445.9 320.4,447.9 320.0,449.9 319.6,451.8 319.2,453.8 318.8,455.8 318.3,457.8 317.8,459.7 317.4,461.7 316.9,463.6 316.3,465.6 315.8,467.5 315.3,469.5 314.7,471.4 314.1,473.4 313.5,475.3 313.0,477.2 312.4,479.2 311.7,481.1 311.1,483.0 310.5,485.0 309.9,486.9 309.2,488.8 308.6,490.7 307.9,492.7 307.3,494.6 306.6,496.5 306.0,498.4 305.3,500.4 304.6,502.3 304.0,504.2 303.3,506.1 302.7,508.0 302.0,510.0 301.4,511.9 300.7,513.8 300.1,515.7 299.4,517.7 298.8,519.6 298.2,521.5 297.6,523.5 297.0,525.4 296.4,527.3 295.8,529.3 295.2,531.2 294.6,533.1 294.1,535.1 293.5,537.0 293.0,539.0 292.5,540.9 292.0,542.9 291.5,544.9 291.1,546.8 290.6,548.8 290.2,550.8 289.8,552.8 289.4,554.7 289.0,556.7 288.6,558.7 288.2,560.7 287.9,562.7 287.5,564.7 287.2,566.7 286.9,568.7 286.6,570.7 286.3,572.7 286.0,574.7 285.8,576.7 285.5,578.7 285.3,580.7 285.1,582.7 284.9,584.7 284.7,586.7 284.5,588.7 284.3,590.8 284.2,592.8 284.0,594.8 283.9,596.8 283.8,598.9 283.7,600.9 283.6,602.9 283.5,605.0 283.4,607.0 283.3,609.0 283.3,611.1 283.2,613.1 283.2,615.1 283.2,617.2 283.2,619.2 283.2,621.2 283.2,623.3 283.2,625.3 283.3,627.4 283.3,629.4 283.4,631.4 283.4,633.5 283.5,635.5 283.6,637.6 283.7,639.6" stroke="#dc3cdc"/>
<path d="M307.1,639.6 L307.2,637.7 307.4,635.8 307.5,633.8 307.6,631.9 307.6,629.9 307.7,627.9 307.8,625.9 307.8,623.9 307.9,621.8 307.9,619.8 308.0,617.8 308.0,615.7 308.0,613.7 308.1,611.6 308.1,609.5 308.2,607.5 308.3,605.4 308.3,603.3 308.4,601.2 308.5,599.2 308.6,597.1 308.8,595.0 308.9,593.0 309.1,590.9 309.3,588.8 309.5,586.8 309.8,584.7 310.0,582.7 310.3,580.7 310.7,578.6 311.0,576.6 311.4,574.6 311.8,572.7 312.3,570.7 312.8,568.7 313.4,566.8 313.9,564.9 314.6,563.0 315.2,561.1 315.9,559.2 316.7,557.3 317.4,555.5 318.2,553.7 319.1,551.9 319.9,550.1 320.9,548.3 321.8,546.6 322.8,544.8 323.8,543.1 324.8,541.4 325.9,539.8 327.0,538.1 328.1,536.5 329.3,534.8 330.5,533.2 331.7,531.7 332.9,530.1 334.2,528.6 335.5,527.1 336.8,525.6 338.2,524.1 339.6,522.7 341.0,521.2 342.4,519.8 343.9,518.4 345.4,517.1 346.9,515.8 348.4,514.4 349.9,513.2 351.5,511.9 353.1,510.6 354.7,509.4 356.3,508.2 358.0,507.1 359.6,505.9 361.3,504.8 363.0,503.7 364.8,502.7 366.5,501.6 368.2,500.6 370.0,499.6 371.8,498.6 373.6,497.6 375.4,496.6 377.2,495.7 379.0,494.7 380.8,493.8 382.6,492.8 384.4,491.9 386.2,491.0 388.0,490.0 389.9,489.1 391.7,488.2 393.5,487.2 395.3,486.3 397.1,485.3 398.9,484.4 400.7,483.4 402.5,482.4 404.3,481.4 406.0,480.4 407.8,479.4 409.5,478.4 411.2,477.3 412.9,476.2 414.6,475.1 416.3,474.0 417.9,472.8 419.5,471.7 421.2,470.5 422.7,469.2 424.3,468.0 425.9,466.7 427.4,465.5 428.9,464.1 430.4,462.8 431.9,461.5 433.3,460.1 434.8,458.7 436.2,457.3 437.6,455.8 438.9,454.4 440.3,452.9 441.6,451.3 442.9,449.8 444.1,448.2 445.4,446.7 446.6,445.0 447.8,443.4 448.9,441.7 450.0,440.1 451.2,438.3 452.2,436.6 453.3,434.9 454.3,433.1 455.3,431.3 456.3,429.4 457.2,427.6 458.1,425.7" stroke="#d83ccc"/>
<path d="M334.3,639.6 L334.3,637.6 334.3,635.6 334.3,633.5 334.3,631.5 334.3,629.5 334.4,627.4 334.4,625.3 334.4,623.3 334.5,621.2 334.5,619.1 334.6,617.1 334.7,615.0 334.9,612.9 335.0,610.9 335.2,608.8 335.4,606.7 335.6,604.7 335.9,602.6 336.2,600.6 336.5,598.5 336.9,596.5 337.3,594.5 337.7,592.5 338.2,590.5 338.7,588.6 339.3,586.6 339.9,584.7 340.5,582.7 341.2,580.8 341.9,578.9 342.6,577.1 343.4,575.2 344.2,573.4 345.1,571.6 346.0,569.8 347.0,568.0 347.9,566.3 349.0,564.6 350.1,562.9 351.2,561.3 352.3,559.6 353.5,558.0 354.8,556.4 356.1,554.9 357.4,553.4 358.8,551.9 360.2,550.5 361.7,549.0 363.1,547.6 364.7,546.3 366.2,544.9 367.8,543.6 369.4,542.3 371.1,541.1 372.7,539.9 374.4,538.6 376.1,537.5 377.9,536.3 379.6,535.2 381.4,534.1 383.2,533.0 385.0,532.0 386.9,531.0 388.7,530.0 390.6,529.0 392.4,528.1 394.3,527.2 396.2,526.3 398.1,525.4 400.0,524.6 401.9,523.8 403.8,523.0 405.7,522.2 407.6,521.5 409.5,520.7 411.4,520.0 413.3,519.4 415.2,518.7 417.1,518.1 418.9,517.5 420.8,516.9" stroke="#e87a82"/>
<path d="M457.3,505.4 L459.7,504.9 462.0,504.4 464.3,503.9 466.7,503.4 469.0,502.8 471.3,502.2 473.6,501.6 475.9,500.9 478.2,500.2 480.5,499.5" stroke="#e87a82"/>
<path d="M370.1,639.6 L370.0,637.6 370.0,635.6 370.0,633.5 370.0,631.5 370.0,629.4 370.1,627.4 370.2,625.3 370.4,623.2 370.5,621.2 370.7,619.1 371.0,617.0 371.2,615.0 371.5,612.9 371.9,610.9 372.3,608.8 372.7,606.8 373.1,604.7 373.6,602.7 374.1,600.7 374.6,598.7 375.2,596.7 375.8,594.7 376.5,592.7 377.2,590.8 377.9,588.9 378.7,586.9 379.5,585.0 380.3,583.2 381.2,581.3 382.1,579.5 383.0,577.7 384.0,575.9 385.1,574.2 386.1,572.4 387.2,570.7 388.4,569.1 389.6,567.4 390.8,565.8 392.0,564.3 393.3,562.8 394.7,561.3 396.1,559.8 397.5,558.4 399.0,557.0 400.5,555.7 402.0,554.4 403.6,553.1 405.3,551.9 407.0,550.7 408.7,549.6 410.5,548.6 412.3,547.5 414.1,546.6 416.0,545.7 418.0,544.8 420.0,544.0 422.0,543.2 424.1,542.5 426.2,541.9" stroke="#eeee3c"/>
<path d="M464.0,525.0 L466.4,524.4 468.8,523.9 471.1,523.2 473.5,522.6 475.8,521.9 478.2,521.2 480.5,520.5" stroke="#eeee3c"/>
<path d="M460.7,639.6 L460.6,637.6 460.6,635.5 460.7,633.4 460.7,631.4 460.8,629.3 461.0,627.2 461.2,625.2 461.4,623.1 461.6,621.0 462.0,619.0 462.3,616.9 462.7,614.9 463.2,612.9 463.6,610.8 464.2,608.8 464.7,606.8 465.4,604.8 466.0,602.9 466.7,600.9 467.5,599.0 468.3,597.1 469.2,595.2 470.1,593.4 471.0,591.5 472.0,589.7 473.1,588.0 474.2,586.2 475.4,584.5 476.6,582.8 477.8,581.2 479.1,579.6 480.5,578.0" stroke="#eeee3c"/>
<path d="M474.9,639.6 L475.5,637.6 476.0,635.5 476.4,633.4 476.8,631.3 477.0,629.2 477.2,627.1 477.4,625.0 477.5,622.8 477.7,620.7 477.8,618.6 478.0,616.4 478.2,614.3 478.5,612.2 478.8,610.1 479.3,608.1 479.8,606.0 480.5,604.0" stroke="#e87a82"/>
</g>
<g clip-path="url(#cpc)" fill="none" stroke-width="1.55" stroke-linejoin="round" stroke-linecap="round">
<path d="M704.8,425.7 L706.5,426.5 708.2,427.5 710.0,428.4 711.7,429.5 713.4,430.6 715.1,431.7 716.8,432.9 718.5,434.1 720.2,435.3 721.9,436.5 723.6,437.8 725.3,439.0 727.0,440.3 728.7,441.5 730.5,442.7 732.2,443.9 734.0,445.1 735.8,446.2 737.6,447.3 739.4,448.3 741.2,449.3 743.0,450.2 744.9,451.0 746.8,451.7 748.7,452.4 750.6,453.0 752.5,453.4 754.4,453.7 756.4,453.9 758.3,453.9 760.2,453.8 762.1,453.5 763.9,453.1 765.8,452.5 767.6,451.7 769.4,450.9 771.2,449.9 773.0,448.8 774.7,447.7 776.5,446.5 778.2,445.3 779.9,444.0 781.6,442.8 783.3,441.5 784.9,440.2 786.6,438.9 788.3,437.6 789.9,436.3 791.5,435.1 793.2,433.8 794.8,432.6 796.5,431.3 798.1,430.2 799.7,429.0 801.4,427.9 803.0,426.8 804.7,425.7" stroke="#dc3cdc"/>
<path d="M643.5,438.5 L650.0,441.5" stroke="#e060a8"/>
<path d="M669.0,446.0 L670.9,446.7 672.8,447.5 674.7,448.3 676.6,449.1 678.4,449.9 680.3,450.7 682.1,451.6 683.9,452.5 685.7,453.4 687.5,454.3 689.3,455.3 691.0,456.2 692.8,457.2 694.5,458.2 696.3,459.2 698.0,460.2 699.7,461.2 701.5,462.2 703.2,463.3 704.9,464.3 706.6,465.4 708.3,466.5 710.1,467.5 711.8,468.6 713.5,469.7 715.3,470.8 717.0,471.9 718.8,473.0 720.5,474.1 722.3,475.2 724.0,476.3 725.8,477.4 727.6,478.5 729.4,479.6 731.3,480.6 733.1,481.7 734.9,482.7 736.8,483.7 738.6,484.6 740.5,485.5 742.4,486.3 744.2,487.0 746.1,487.6 748.0,488.2 749.9,488.6 751.8,488.9 753.6,489.1 755.5,489.2 757.4,489.1 759.3,488.9 761.1,488.5 763.0,488.1 764.8,487.6 766.6,486.9 768.4,486.2 770.2,485.3 772.0,484.4 773.7,483.4 775.4,482.4 777.1,481.3 778.8,480.1 780.4,478.9 782.0,477.6 783.6,476.3 785.2,475.0 786.8,473.6 788.4,472.2 790.0,470.8 791.5,469.4 793.1,467.9 794.6,466.5 796.2,465.1 797.8,463.7 799.3,462.3 800.9,460.9 802.5,459.5 804.1,458.2 805.7,456.9 807.3,455.7 808.9,454.5 810.6,453.3 812.3,452.2 813.9,451.1 815.6,450.1 817.3,449.1 819.1,448.1 820.8,447.1 822.6,446.2 824.3,445.2 826.1,444.3 827.9,443.4 829.7,442.5 831.5,441.7 833.3,440.8 835.2,439.9 837.0,439.1 838.9,438.2 840.7,437.4 842.6,436.6 844.5,435.8 846.3,435.0 848.2,434.2 850.1,433.4 852.0,432.6 853.9,431.8 855.8,431.1 857.7,430.4 859.6,429.6 861.5,428.9 863.4,428.2 865.3,427.5 867.2,426.8 869.1,426.2 871.0,425.5" stroke="#e060a8"/>
<path d="M643.5,453.5 L657.0,457.5" stroke="#e88a70"/>
<path d="M676.8,467.3 L678.7,468.2 680.6,469.0 682.4,469.9 684.3,470.7 686.1,471.5 688.0,472.4 689.8,473.3 691.6,474.1 693.5,475.0 695.3,475.9 697.0,476.8 698.8,477.7 700.6,478.7 702.3,479.6 704.0,480.6 705.7,481.7 707.4,482.7 709.1,483.8 710.7,484.9 712.3,486.1 713.9,487.3 715.5,488.6 717.0,489.9 718.5,491.2 720.0,492.6 721.5,494.1 722.9,495.6 724.3,497.1 725.7,498.8 727.0,500.4 728.3,502.1 729.7,503.9 731.0,505.6 732.3,507.3 733.6,508.9 735.0,510.5 736.4,512.1 737.8,513.5 739.3,514.9 740.8,516.2 742.3,517.3 744.0,518.3 745.7,519.1 747.4,519.8 749.3,520.2 751.1,520.3 752.9,520.0 754.6,519.4 756.4,518.6 758.0,517.7 759.6,516.6 761.2,515.5 762.7,514.3 764.2,513.0 765.6,511.6 767.0,510.1 768.3,508.7 769.6,507.1 771.0,505.5 772.3,503.9 773.5,502.3 774.8,500.7 776.1,499.0 777.4,497.3 778.7,495.7 780.0,494.1 781.3,492.4 782.6,490.9 784.0,489.3 785.3,487.7 786.7,486.2 788.1,484.7 789.5,483.2 791.0,481.8 792.4,480.4 793.9,478.9 795.4,477.6 796.9,476.2 798.4,474.8 799.9,473.5 801.5,472.2 803.0,470.9 804.6,469.7 806.2,468.4 807.8,467.2 809.4,466.0 811.0,464.8 812.7,463.6 814.3,462.5 816.0,461.3 817.6,460.2 819.3,459.1 821.0,458.0 822.7,457.0 824.4,455.9 826.2,454.9 827.9,453.9 829.7,452.9 831.4,451.9 833.2,450.9 835.0,450.0 836.7,449.0 838.5,448.1 840.3,447.2 842.1,446.3 844.0,445.4 845.8,444.6 847.6,443.7 849.5,442.9 851.3,442.0 853.2,441.2 855.0,440.4 856.9,439.6 858.8,438.9 860.6,438.1 862.5,437.3 864.4,436.6 866.3,435.9 868.2,435.2 870.1,434.4 872.0,433.7 873.9,433.1 875.8,432.4 877.7,431.7 879.7,431.1 881.6,430.4 883.5,429.8 885.4,429.1 887.3,428.5 889.3,427.9 891.2,427.3 893.1,426.7 895.1,426.1 897.0,425.5" stroke="#e88a70"/>
<path d="M643.5,482.0 L655.0,487.5" stroke="#e8bc58"/>
<path d="M674.7,502.3 L676.3,503.8 677.9,505.3 679.4,506.8 680.9,508.4 682.3,509.9 683.6,511.5 684.9,513.2 686.1,514.8 687.3,516.5 688.5,518.1 689.6,519.9 690.6,521.6 691.6,523.3 692.6,525.1 693.5,526.9 694.4,528.7 695.2,530.5 696.0,532.3 696.8,534.2 697.5,536.0 698.2,537.9 698.8,539.8 699.4,541.7 700.0,543.7 700.5,545.6 701.0,547.6 701.5,549.5 701.9,551.5 702.3,553.5 702.7,555.5 703.1,557.5 703.4,559.5 703.7,561.5 704.0,563.5 704.3,565.6 704.5,567.6 704.7,569.7 704.9,571.8 705.1,573.8 705.3,575.9 705.4,578.0 705.5,580.0 705.7,582.1 705.8,584.2 705.9,586.3 705.9,588.4 706.0,590.5 706.1,592.6 706.1,594.7 706.2,596.8 706.2,598.9 706.2,601.0 706.3,603.1 706.3,605.1 706.3,607.2 706.4,609.3 706.4,611.4 706.4,613.5 706.4,615.5 706.5,617.6 706.5,619.7 706.6,621.7 706.6,623.8 706.7,625.8 706.7,627.8 706.8,629.8 706.9,631.9 707.0,633.9 707.1,635.8 707.3,637.8 707.4,639.8" stroke="#e8bc58"/>
<path d="M774.6,639.8 L774.6,637.9 774.7,635.9 774.7,634.0 774.7,632.0 774.7,630.1 774.7,628.1 774.7,626.1 774.7,624.1 774.7,622.1 774.7,620.1 774.7,618.1 774.7,616.1 774.7,614.1 774.6,612.1 774.6,610.0 774.6,608.0 774.6,605.9 774.6,603.9 774.6,601.8 774.6,599.8 774.6,597.7 774.6,595.7 774.7,593.6 774.7,591.6 774.7,589.5 774.8,587.5 774.8,585.4 774.9,583.3 775.0,581.3 775.1,579.2 775.2,577.2 775.3,575.1 775.4,573.0 775.5,571.0 775.7,568.9 775.9,566.9 776.0,564.9 776.2,562.8 776.5,560.8 776.7,558.8 776.9,556.7 777.2,554.7 777.5,552.7 777.8,550.7 778.1,548.7 778.5,546.7 778.9,544.7 779.3,542.8 779.7,540.8 780.2,538.8 780.6,536.9 781.1,535.0 781.6,533.0 782.2,531.1 782.8,529.2 783.4,527.3 784.0,525.4 784.7,523.5 785.4,521.7 786.1,519.8 786.9,518.0 787.7,516.2 788.5,514.4 789.3,512.6 790.2,510.8 791.1,509.1 792.1,507.3 793.0,505.6 794.0,503.9 795.1,502.2 796.1,500.5 797.2,498.8 798.3,497.1 799.5,495.5 800.6,493.9 801.8,492.3 803.0,490.7 804.3,489.1 805.5,487.6 806.8,486.1 808.2,484.6 809.5,483.1 810.9,481.6 812.3,480.2 813.7,478.7 815.1,477.3 816.6,476.0 818.1,474.6 819.6,473.2 821.1,471.9 822.6,470.6 824.2,469.3 825.8,468.1 827.4,466.9 829.0,465.7 830.7,464.5 832.3,463.3 834.0,462.2 835.7,461.1 837.4,460.0 839.2,458.9 840.9,457.9 842.7,456.9 844.5,455.9 846.3,454.9 848.1,454.0 849.9,453.1 851.8,452.2 853.6,451.3 855.5,450.5 857.4,449.6 859.3,448.8 861.1,448.1 863.0,447.3 865.0,446.6 866.9,445.9 868.8,445.2 870.7,444.5 872.6,443.8 874.6,443.2 876.5,442.6 878.5,442.0 880.4,441.5 882.4,440.9 884.3,440.4 886.2,439.9 888.2,439.4 890.1,439.0 892.1,438.5 894.0,438.1" stroke="#e8bc58"/>
<path d="M910.4,431.7 L926.7,425.7" stroke="#e8bc58"/>
<path d="M829.0,639.8 L829.1,637.8 829.3,635.9 829.4,633.9 829.5,631.9 829.6,629.9 829.6,628.0 829.7,626.0 829.7,623.9 829.7,621.9 829.7,619.9 829.7,617.9 829.7,615.9 829.7,613.8 829.6,611.8 829.6,609.8 829.6,607.7 829.5,605.7 829.5,603.7 829.5,601.6 829.4,599.6 829.4,597.5 829.4,595.5 829.4,593.4 829.3,591.4 829.3,589.3 829.3,587.3 829.3,585.2 829.4,583.2 829.4,581.1 829.4,579.1 829.5,577.0 829.6,575.0 829.7,573.0 829.8,570.9 830.0,568.9 830.1,566.9 830.3,564.8 830.5,562.8 830.7,560.8 831.0,558.8 831.3,556.8 831.6,554.8 832.0,552.8 832.3,550.9 832.7,548.9 833.2,546.9 833.7,545.0 834.2,543.0 834.7,541.1 835.3,539.2 835.9,537.3 836.6,535.4 837.3,533.5 838.0,531.6 838.8,529.7 839.5,527.9 840.4,526.0 841.2,524.2 842.1,522.4 843.0,520.6 843.9,518.8 844.9,517.1 845.9,515.3 846.9,513.6 848.0,511.9 849.1,510.2 850.2,508.5 851.4,506.9 852.5,505.3 853.7,503.7 855.0,502.1 856.2,500.5 857.5,499.0 858.8,497.5 860.2,496.0 861.5,494.5 862.9,493.1 864.3,491.7 865.7,490.3 867.2,488.9 868.7,487.6 870.2,486.3 871.7,485.0 873.2,483.7 874.8,482.4 876.4,481.2 877.9,480.0 879.6,478.8 881.2,477.6 882.8,476.4 884.5,475.2 886.1,474.1 887.8,472.9 889.5,471.8 891.2,470.7 892.9,469.5 894.6,468.4 896.3,467.3 898.0,466.3 899.8,465.2 901.5,464.1 903.2,463.0 905.0,462.0 906.7,460.9 908.5,459.8 910.2,458.7 912.0,457.7 913.7,456.6 915.5,455.5 917.2,454.5 918.9,453.4 920.7,452.3 922.4,451.2 924.1,450.1 925.8,449.0 927.5,447.9 929.2,446.8 930.9,445.7 932.6,444.6 934.3,443.4 935.9,442.3 937.6,441.1 939.2,439.9 940.8,438.7 942.4,437.5 944.0,436.3 945.6,435.0 947.1,433.7 948.7,432.4 950.2,431.1 951.7,429.8 953.1,428.5 954.6,427.1 956.0,425.7" stroke="#eeee3c"/>
</g>
<g clip-path="url(#cpd)" fill="none" stroke-width="1.55" stroke-linejoin="round" stroke-linecap="round">
<path d="M128.3,781.6 L130.0,782.5 131.7,783.5 133.5,784.4 135.2,785.4 136.9,786.4 138.6,787.5 140.3,788.6 142.1,789.7 143.8,790.8 145.5,792.0 147.1,793.2 148.8,794.4 150.5,795.6 152.1,796.9 153.8,798.2 155.4,799.5 157.0,800.8 158.6,802.2 160.2,803.6 161.7,805.0 163.2,806.4 164.7,807.9 166.2,809.3 167.7,810.8 169.1,812.4 170.5,813.9 171.8,815.5 173.2,817.1 174.5,818.7 175.7,820.3 176.9,822.0 178.1,823.6 179.3,825.3 180.4,827.0 181.5,828.8 182.5,830.5 183.5,832.3 184.4,834.1 185.3,835.9 186.2,837.7 187.0,839.5 187.7,841.4 188.4,843.2 189.0,845.1 189.6,847.0 190.2,848.9 190.6,850.9 191.1,852.8 191.4,854.8 191.7,856.7 192.0,858.7 192.2,860.7 192.3,862.7 192.4,864.7 192.4,866.7 192.4,868.6 192.3,870.6 192.1,872.6 191.9,874.6 191.6,876.6 191.3,878.6 190.9,880.6 190.4,882.5 189.9,884.5 189.3,886.4 188.7,888.3 188.0,890.2 187.2,892.1 186.4,894.0 185.5,895.9 184.5,897.7 183.5,899.5 182.4,901.3 181.3,903.1 180.0,904.8 178.8,906.6 177.4,908.2 176.0,909.9" stroke="#eeee3c"/>
<path d="M155.7,930.1 L154.1,931.6 152.6,933.1 151.0,934.6 149.4,936.0 147.7,937.4 146.1,938.8 144.4,940.2 142.7,941.5 141.0,942.8 139.2,944.0 137.4,945.3 135.7,946.5 133.9,947.7 132.0,948.9 130.2,950.0 128.3,951.1" stroke="#eeee3c"/>
<path d="M173.6,752.8 L175.3,754.1 176.9,755.3 178.6,756.6 180.3,757.9 181.9,759.2 183.5,760.5 185.2,761.8 186.8,763.1 188.4,764.4 190.0,765.8 191.6,767.1 193.2,768.5 194.8,769.9 196.4,771.2 197.9,772.6 199.5,774.0 201.0,775.4 202.6,776.8 204.1,778.2 205.7,779.7 207.2,781.1 208.7,782.5 210.2,784.0" stroke="#e8a85a"/>
<path d="M230.5,805.0 L232.1,806.4 233.7,807.9 235.2,809.3 236.7,810.8 238.1,812.4 239.5,814.0 240.8,815.6 242.1,817.2 243.3,818.9 244.5,820.5 245.6,822.3 246.7,824.0 247.7,825.8 248.6,827.5 249.5,829.3 250.4,831.2 251.2,833.0 251.9,834.9 252.7,836.7 253.3,838.6 253.9,840.5 254.5,842.5 255.0,844.4 255.4,846.3 255.9,848.3 256.2,850.3 256.5,852.2 256.8,854.2 257.0,856.2 257.2,858.2 257.3,860.2 257.4,862.2 257.5,864.2 257.5,866.2 257.4,868.2 257.3,870.2 257.2,872.2 257.0,874.2 256.7,876.1 256.5,878.1 256.1,880.1 255.8,882.0 255.3,884.0 254.9,885.9 254.4,887.9 253.9,889.8 253.3,891.7 252.6,893.6 252.0,895.5 251.3,897.3 250.5,899.2 249.7,901.0 248.9,902.8 248.0,904.6 247.1,906.3 246.1,908.1 245.1,909.8 244.1,911.5 243.1,913.2 242.0,914.9 240.9,916.5 239.7,918.2 238.5,919.8 237.3,921.4 236.1,923.0 234.8,924.6 233.5,926.2 232.2,927.7 230.9,929.3 229.5,930.8 228.1,932.3 226.7,933.8 225.3,935.3 223.9,936.8 222.4,938.3 220.9,939.7 219.4,941.1 217.9,942.6 216.4,944.0 214.9,945.4 213.4,946.8 211.8,948.2 210.2,949.5 208.7,950.9 207.1,952.3 205.5,953.6 203.9,955.0 202.4,956.3 200.8,957.6 199.2,958.9 197.6,960.2 196.0,961.5 194.4,962.8 192.8,964.1 191.2,965.4 189.7,966.6 188.1,967.9 186.5,969.2 185.0,970.4 183.4,971.7 181.9,972.9 180.3,974.2 178.8,975.4 177.3,976.6 175.8,977.8 174.4,979.1 172.9,980.3" stroke="#e8a85a"/>
<path d="M282.7,752.6 L284.1,754.2 285.6,755.9 287.0,757.6 288.4,759.2 289.8,760.9 291.2,762.6 292.6,764.3 293.9,766.0 295.3,767.7 296.6,769.5 297.9,771.2 299.2,773.0 300.5,774.7 301.8,776.5 303.1,778.3 304.3,780.1 305.6,781.9 306.8,783.7 308.0,785.5" stroke="#dc3cdc"/>
<path d="M316.8,800.7 L318.1,802.4 319.4,804.2 320.6,806.0 321.8,807.8 322.9,809.6 324.0,811.4 325.0,813.2 326.0,815.1 326.9,816.9 327.8,818.8 328.7,820.6 329.5,822.5 330.3,824.4 331.0,826.3 331.7,828.2 332.3,830.1 332.9,832.0 333.4,834.0 333.9,835.9 334.4,837.8 334.8,839.8 335.2,841.7 335.6,843.7 335.9,845.7 336.2,847.6 336.4,849.6 336.6,851.6 336.7,853.6 336.9,855.5 336.9,857.5 337.0,859.5 337.0,861.5 337.0,863.5 336.9,865.5 336.8,867.5 336.7,869.4 336.5,871.4 336.3,873.4 336.1,875.4 335.8,877.4 335.5,879.3 335.1,881.3 334.8,883.3 334.4,885.3 333.9,887.2 333.5,889.2 333.0,891.1 332.5,893.1 331.9,895.0 331.3,897.0 330.7,898.9 330.1,900.8 329.4,902.7 328.7,904.6 328.0,906.5 327.2,908.4 326.5,910.3 325.6,912.2 324.8,914.0 324.0,915.9 323.1,917.7 322.2,919.5 321.2,921.3 320.3,923.1 319.3,924.9 318.3,926.7 317.3,928.5 316.3,930.3 315.2,932.0 314.1,933.8 313.0,935.5 311.9,937.2 310.8,939.0 309.7,940.7 308.6,942.4 307.4,944.1 306.3,945.8 305.1,947.5 303.9,949.1 302.7,950.8 301.6,952.5 300.4,954.1 299.2,955.8 298.0,957.5 296.8,959.1 295.6,960.8 294.4,962.4 293.2,964.0 292.0,965.7 290.8,967.3 289.6,968.9 288.4,970.6 287.2,972.2 286.1,973.8 284.9,975.4 283.8,977.1 282.6,978.7 281.5,980.3" stroke="#dc3cdc"/>
<path d="M335.2,752.6 L336.4,754.4 337.6,756.2 338.8,758.1 339.9,759.9 341.0,761.8 342.2,763.6 343.3,765.5 344.3,767.4 345.4,769.3 346.5,771.1 347.5,773.1 348.5,775.0 349.5,776.9 350.5,778.8 351.5,780.8 352.4,782.7 353.4,784.7 354.3,786.6 355.2,788.6 356.1,790.6" stroke="#dc3cdc"/>
<path d="M362.4,803.2 L363.5,805.0 364.6,806.9 365.6,808.8 366.5,810.6 367.5,812.5 368.4,814.4 369.2,816.3 370.0,818.2 370.8,820.1 371.5,822.0 372.2,824.0 372.8,825.9 373.4,827.9 373.9,829.8 374.4,831.8 374.9,833.7 375.4,835.7 375.8,837.7 376.1,839.6 376.4,841.6 376.7,843.6 377.0,845.6 377.2,847.6 377.3,849.6 377.5,851.6 377.6,853.6 377.7,855.6 377.7,857.6 377.7,859.6 377.7,861.6 377.6,863.6 377.5,865.6 377.4,867.6 377.2,869.6 377.0,871.6 376.8,873.6 376.5,875.6 376.2,877.5 375.9,879.5 375.5,881.5 375.2,883.5 374.7,885.5 374.3,887.5 373.8,889.4 373.3,891.4 372.8,893.3 372.3,895.3 371.7,897.2 371.1,899.2 370.5,901.1 369.8,903.0 369.1,905.0 368.4,906.9 367.7,908.8 366.9,910.7 366.2,912.6 365.4,914.4 364.5,916.3 363.7,918.2 362.8,920.0 361.9,921.8 361.0,923.7 360.1,925.5 359.2,927.3 358.3,929.2 357.3,931.0 356.3,932.8 355.3,934.6 354.4,936.4 353.4,938.2 352.3,939.9 351.3,941.7 350.3,943.5 349.3,945.3 348.2,947.0 347.2,948.8 346.1,950.6 345.1,952.3 344.1,954.1 343.0,955.8 342.0,957.6 340.9,959.3 339.9,961.1 338.9,962.8 337.8,964.6 336.8,966.3 335.8,968.1 334.8,969.8 333.8,971.6 332.8,973.3 331.8,975.0 330.9,976.8 329.9,978.5 329.0,980.3" stroke="#dc3cdc"/>
<path d="M358.6,752.6 L359.6,754.4 360.6,756.2 361.5,758.1 362.3,760.0 363.1,762.0 363.9,764.0 364.7,766.0 365.4,768.0 366.1,770.1 366.9,772.1 367.6,774.2 368.4,776.2 369.2,778.2 370.0,780.1 370.9,782.1 371.8,783.9 372.8,785.8 373.9,787.6 375.1,789.3 376.3,790.9 377.7,792.5 379.2,793.9 380.8,795.3 382.5,796.6 384.4,797.7 386.4,798.8" stroke="#dc3cdc"/>
<path d="M409.3,772.5 L416.8,752.6" stroke="#dc3cdc"/>
<path d="M346.7,980.3 L347.6,978.4 348.5,976.5 349.4,974.6 350.3,972.7 351.3,970.8 352.2,968.9 353.2,967.1 354.2,965.2 355.2,963.4 356.3,961.5 357.3,959.7 358.4,957.9 359.5,956.1 360.6,954.3 361.8,952.6 362.9,950.8 364.1,949.1 365.3,947.4 366.6,945.7 367.8,944.0 369.1,942.4 370.5,940.8 371.8,939.2 373.2,937.6 374.6,936.0 376.0,934.5 377.5,933.0 379.0,931.5 380.5,930.0 382.1,928.6 383.7,927.2 385.3,925.8" stroke="#dc3cdc"/>
<path d="M403.9,955.8 L404.2,958.1 404.4,960.3 404.5,962.6 404.5,964.8 404.4,967.0 404.2,969.3 403.9,971.5 403.4,973.7 402.9,975.9 402.2,978.1 401.5,980.3" stroke="#dc3cdc"/>
<path d="M427.0,752.6 L426.4,754.7 425.8,756.8 425.2,758.9 424.6,761.0 424.0,763.1 423.4,765.2 422.8,767.3 422.2,769.3 421.6,771.4 421.0,773.5 420.4,775.6 419.8,777.7 419.2,779.8 418.5,781.9 417.9,784.0 417.3,786.0 416.7,788.1 416.0,790.2 415.4,792.3" stroke="#dc3cdc"/>
<path d="M411.4,805.9 L410.6,807.9 409.9,809.9 409.2,811.9 408.6,813.8 408.0,815.8 407.4,817.8 406.9,819.8 406.4,821.8 406.0,823.8 405.6,825.8 405.2,827.8 404.9,829.8 404.6,831.8 404.3,833.8 404.1,835.8 403.9,837.7 403.7,839.7 403.5,841.7 403.4,843.7 403.3,845.7 403.3,847.7 403.2,849.7 403.2,851.7 403.2,853.7 403.3,855.7 403.3,857.7 403.4,859.7 403.5,861.7 403.7,863.7 403.8,865.7 404.0,867.7 404.2,869.7 404.4,871.7 404.6,873.7 404.8,875.7 405.1,877.7 405.3,879.7 405.6,881.8 405.9,883.8 406.2,885.8 406.5,887.8 406.8,889.8 407.1,891.8 407.5,893.8 407.8,895.8 408.2,897.8 408.5,899.8 408.9,901.8 409.3,903.8 409.6,905.8 410.0,907.8 410.4,909.9 410.8,911.9 411.2,913.9 411.5,915.9 411.9,917.9 412.3,919.9 412.7,921.9 413.0,923.9 413.4,925.9 413.7,927.9 414.1,930.0 414.4,932.0 414.8,934.0 415.1,936.0 415.4,938.0 415.7,940.0 416.0,942.0 416.3,944.0 416.6,946.1 416.9,948.1 417.1,950.1 417.3,952.1 417.5,954.1 417.7,956.1 417.9,958.1 418.1,960.2 418.2,962.2 418.3,964.2 418.4,966.2 418.5,968.2 418.6,970.2 418.6,972.2 418.6,974.3 418.6,976.3 418.6,978.3 418.5,980.3" stroke="#dc3cdc"/>
<path d="M446.5,752.6 L446.0,754.7 445.4,756.8 444.9,758.9 444.4,761.0 443.9,763.2 443.4,765.3 442.9,767.4 442.4,769.5 441.9,771.6 441.4,773.8 441.0,775.9 440.5,778.0 440.0,780.1 439.5,782.3 439.1,784.4 438.6,786.5 438.2,788.6 437.7,790.8 437.3,792.9" stroke="#dc3cdc"/>
<path d="M434.9,806.9 L434.3,808.9 433.7,810.9 433.1,813.0 432.5,815.0 432.0,817.0 431.6,819.0 431.1,821.0 430.7,823.1 430.4,825.1 430.0,827.1 429.7,829.1 429.4,831.1 429.2,833.1 429.0,835.2 428.8,837.2 428.6,839.2 428.5,841.2 428.4,843.2 428.3,845.2 428.2,847.2 428.2,849.3 428.1,851.3 428.1,853.3 428.2,855.3 428.2,857.3 428.3,859.3 428.4,861.3 428.5,863.4 428.6,865.4 428.7,867.4 428.9,869.4 429.1,871.4 429.3,873.4 429.5,875.4 429.7,877.4 429.9,879.5 430.2,881.5 430.4,883.5 430.7,885.5 431.0,887.5 431.3,889.5 431.6,891.5 431.9,893.5 432.2,895.6 432.5,897.6 432.8,899.6 433.2,901.6 433.5,903.6 433.9,905.6 434.2,907.6 434.6,909.6 434.9,911.7 435.3,913.7 435.6,915.7 436.0,917.7 436.3,919.7 436.7,921.7 437.1,923.7 437.4,925.8 437.8,927.8 438.1,929.8 438.5,931.8 438.8,933.8 439.1,935.8 439.4,937.9 439.8,939.9 440.1,941.9 440.4,943.9 440.7,945.9 441.0,947.9 441.2,950.0 441.5,952.0 441.7,954.0 442.0,956.0 442.2,958.0 442.4,960.1 442.6,962.1 442.8,964.1 443.0,966.1 443.1,968.1 443.2,970.2 443.3,972.2 443.4,974.2 443.5,976.2 443.6,978.3 443.6,980.3" stroke="#dc3cdc"/>
<path d="M468.2,752.6 L467.8,754.7 467.4,756.8 467.0,758.9 466.7,761.0 466.3,763.2 466.0,765.3 465.6,767.4 465.3,769.5 465.0,771.6 464.7,773.7 464.4,775.9 464.1,778.0 463.8,780.1 463.5,782.2 463.3,784.4 463.0,786.5 462.8,788.6 462.5,790.8 462.3,792.9" stroke="#e8a85a"/>
<path d="M460.0,822.1 L459.6,824.1 459.3,826.2 459.0,828.2 458.7,830.2 458.4,832.3 458.1,834.3 457.9,836.3 457.7,838.4 457.5,840.4 457.4,842.4 457.3,844.4 457.1,846.5 457.1,848.5 457.0,850.5 456.9,852.6 456.9,854.6 456.9,856.6 456.9,858.6 456.9,860.7 457.0,862.7 457.0,864.7 457.1,866.7 457.2,868.8 457.3,870.8 457.4,872.8 457.5,874.8 457.6,876.9 457.8,878.9 457.9,880.9 458.1,882.9 458.3,885.0 458.5,887.0 458.7,889.0 458.9,891.0 459.1,893.1 459.3,895.1 459.5,897.1 459.8,899.1 460.0,901.2 460.3,903.2 460.5,905.2 460.8,907.2 461.0,909.3 461.3,911.3 461.5,913.3 461.8,915.3 462.0,917.4 462.3,919.4 462.5,921.4 462.8,923.4 463.1,925.5 463.3,927.5 463.6,929.5 463.8,931.5 464.0,933.6 464.3,935.6 464.5,937.6 464.7,939.6 464.9,941.7 465.2,943.7 465.4,945.7 465.5,947.8 465.7,949.8 465.9,951.8 466.1,953.9 466.2,955.9 466.4,957.9 466.5,960.0 466.6,962.0 466.7,964.0 466.8,966.0 466.9,968.1 466.9,970.1 467.0,972.2 467.0,974.2 467.0,976.2 467.0,978.3 467.0,980.3" stroke="#e8a85a"/>
<path d="M475.7,752.6 L475.5,754.6 475.2,756.7 475.0,758.7 474.8,760.8 474.5,762.8 474.3,764.8 474.1,766.9 473.9,768.9 473.7,771.0 473.5,773.0 473.3,775.0 473.1,777.1 472.9,779.1 472.7,781.2 472.6,783.2 472.4,785.3 472.2,787.3 472.0,789.3 471.9,791.4 471.7,793.4 471.6,795.5 471.4,797.5 471.3,799.6 471.1,801.6 471.0,803.7 470.9,805.7 470.8,807.8 470.6,809.8 470.5,811.8 470.4,813.9 470.3,815.9 470.2,818.0 470.1,820.0 470.0,822.1 469.9,824.1 469.8,826.2 469.8,828.2 469.7,830.3 469.6,832.3 469.5,834.4 469.5,836.4 469.4,838.5 469.4,840.5 469.3,842.6 469.3,844.6 469.2,846.7 469.2,848.7 469.2,850.8 469.2,852.8 469.1,854.9 469.1,856.9 469.1,859.0 469.1,861.0 469.1,863.1 469.1,865.1 469.1,867.2 469.2,869.2 469.2,871.3 469.2,873.3 469.2,875.4 469.3,877.4 469.3,879.5 469.3,881.5 469.4,883.6 469.5,885.6 469.5,887.7 469.6,889.7 469.6,891.8 469.7,893.8 469.8,895.9 469.9,897.9 470.0,900.0 470.1,902.0 470.2,904.1 470.3,906.1 470.4,908.2 470.5,910.2" stroke="#eeee3c"/>
<path d="M472.8,939.5 L475.2,980.3" stroke="#eeee3c"/>
</g>
<g clip-path="url(#cpe)" fill="none" stroke-width="1.55" stroke-linejoin="round" stroke-linecap="round">
<path d="M643.8,763.7 L645.6,764.4 647.6,765.1 649.5,765.6 651.5,766.1 653.5,766.5 655.6,766.9 657.6,767.3 659.7,767.6 661.8,767.9 663.9,768.3 666.1,768.6 668.2,769.0 670.3,769.5 672.4,770.0 674.5,770.6 676.5,771.2 678.6,772.0 680.6,772.9 682.5,774.0 684.4,775.1 686.1,776.4 687.5,777.8 688.4,779.3 688.8,780.8 688.5,782.4 687.6,783.9 686.3,785.3 684.5,786.6 682.4,787.5 680.2,788.1 677.8,788.3 675.3,787.9 673.0,787.0" stroke="#dc3cdc"/>
<path d="M659.9,787.0 L643.8,786.8" stroke="#dc3cdc"/>
<path d="M643.8,820.6 L683.3,820.6" stroke="#dc3cdc"/>
<path d="M696.4,820.6 L698.5,820.7 700.6,820.7 702.7,820.7 704.8,820.6 706.8,820.5 708.8,820.4 710.8,820.3 712.8,820.1 714.8,820.0 716.7,819.8 718.7,819.6 720.6,819.3 722.6,819.1 724.5,818.9 726.5,818.6 728.4,818.4 730.4,818.1 732.4,817.9 734.3,817.6 736.4,817.4 738.4,817.1 740.4,816.9 742.5,816.7 744.6,816.5 746.7,816.3 748.8,816.1 750.9,815.8 753.0,815.6 755.1,815.3 757.2,814.9 759.2,814.6 761.3,814.1 763.3,813.6 765.3,813.1 767.3,812.4 769.2,811.7 771.1,810.8 772.9,809.9 774.6,808.9 776.4,807.7 778.0,806.4 779.6,805.1 781.0,803.6 782.2,802.0 783.2,800.4 783.9,798.7 784.3,797.1 784.4,795.4 784.2,793.7 783.7,792.1 783.0,790.4 782.1,788.8 780.9,787.2 779.6,785.7 778.1,784.1 776.5,782.7 774.8,781.3 773.0,780.0 771.2,778.7 769.4,777.5 767.5,776.4 765.6,775.4 763.8,774.5 761.9,773.6 760.0,772.8 758.1,772.0 756.2,771.3 754.3,770.6 752.4,769.9 750.5,769.3 748.6,768.6 746.7,768.0 744.8,767.4 743.0,766.8 741.1,766.2 739.2,765.6 737.3,765.0 735.4,764.4 733.5,763.9 731.5,763.3 729.6,762.7 727.7,762.1 725.7,761.5 723.8,761.0 721.8,760.4 719.8,759.8" stroke="#dc3cdc"/>
<path d="M756.3,759.8 L758.1,760.8 759.9,761.9 761.7,762.8 763.5,763.8 765.4,764.7 767.2,765.6 769.0,766.5 770.8,767.4 772.7,768.2 774.5,769.1 776.3,769.9 778.1,770.7 780.0,771.6 781.8,772.4 783.6,773.2 785.4,774.0 787.3,774.8 789.1,775.6 790.9,776.4 792.7,777.3 794.6,778.1 796.4,779.0 798.2,779.8 800.0,780.7 801.9,781.6 803.7,782.6 805.5,783.5 807.3,784.5 809.1,785.5 810.9,786.6 812.6,787.7 814.4,788.8 816.1,789.9 817.9,791.1 819.6,792.4 821.3,793.7 822.9,795.0 824.5,796.4 826.1,797.9 827.6,799.4 829.1,800.9 830.4,802.5 831.6,804.2 832.7,805.9 833.7,807.6 834.5,809.4 835.2,811.2 835.7,813.0 836.0,814.8 836.2,816.7 836.2,818.6 836.0,820.4 835.7,822.2 835.2,824.0 834.5,825.8 833.7,827.5 832.7,829.1 831.5,830.7 830.1,832.2 828.7,833.6 827.0,835.0 825.3,836.3 823.5,837.6 821.6,838.7 819.7,839.9 817.7,841.0 815.7,842.0 813.7,843.0 811.7,843.9 809.7,844.8 807.7,845.6 805.8,846.4 804.0,847.1 802.2,847.8 800.5,848.5 799.0,849.1" stroke="#dc3cdc"/>
<path d="M784.4,855.7 L782.2,856.1 780.0,856.7 777.9,857.5 775.9,858.5 774.0,859.6 772.3,860.9 770.8,862.4 769.6,863.9 768.6,865.5 768.0,867.2 767.6,868.9 767.5,870.6 767.7,872.3 768.1,874.0 768.8,875.6 769.8,877.2 771.0,878.7 772.5,880.1 774.0,881.4 775.8,882.6 777.5,883.8 779.4,885.0 781.2,886.0 783.1,887.1 784.9,888.0 786.7,889.0 788.6,889.9 790.4,890.8 792.2,891.7 794.1,892.5 795.9,893.4 797.7,894.2 799.5,895.1 801.3,896.0 803.1,896.8 804.9,897.8 806.7,898.7 808.4,899.7 810.2,900.7 811.9,901.8 813.6,903.0 815.2,904.2 816.9,905.6 818.5,907.0 820.1,908.5 821.6,910.1 823.0,911.8 824.4,913.5 825.5,915.3 826.6,917.1 827.4,918.9 828.0,920.8 828.3,922.6 828.5,924.4 828.3,926.2 828.0,928.0 827.4,929.7 826.7,931.4 825.8,933.1 824.7,934.7 823.5,936.3 822.1,937.8 820.7,939.3 819.1,940.7 817.5,942.1 815.8,943.4 814.1,944.6 812.4,945.8 810.6,946.9 808.8,947.9 807.0,948.9 805.2,949.8 803.3,950.7 801.5,951.5 799.6,952.3 797.7,953.0 795.8,953.7 793.9,954.3 791.9,954.9 790.0,955.5 788.0,956.0 786.1,956.5 784.1,957.0 782.2,957.5 780.2,958.0 778.2,958.4 776.2,958.9 774.3,959.3 772.3,959.7 770.3,960.1 768.3,960.5 766.4,960.9 764.4,961.3 762.4,961.6 760.4,962.0 758.4,962.3 756.4,962.6 754.5,963.0 752.5,963.3 750.5,963.6 748.5,963.9 746.5,964.2 744.5,964.4 742.5,964.7 740.5,965.0 738.5,965.2 736.5,965.5 734.5,965.7 732.5,966.0 730.5,966.2 728.5,966.4 726.5,966.6 724.5,966.8 722.5,967.0 720.4,967.2 718.4,967.4 716.4,967.6 714.4,967.8 712.4,968.0 710.4,968.1 708.4,968.3 706.3,968.5 704.3,968.6 702.3,968.8" stroke="#dc3cdc"/>
<path d="M676.0,968.2 L643.9,967.8" stroke="#dc3cdc"/>
<path d="M643.8,924.3 L645.7,924.4 647.7,924.4 649.7,924.5 651.7,924.5 653.7,924.6 655.7,924.6 657.7,924.6 659.7,924.7 661.8,924.7 663.8,924.7 665.9,924.7 667.9,924.8 670.0,924.8 672.0,924.8 674.1,924.9 676.2,924.9 678.2,924.9 680.3,925.0 682.3,925.0 684.4,925.1 686.5,925.2 688.5,925.2 690.5,925.3 692.6,925.4 694.6,925.5 696.6,925.6 698.6,925.7 700.6,925.9 702.6,926.0 704.5,926.2 706.5,926.3 708.4,926.5 710.4,926.7 712.3,926.9 714.3,927.1 716.2,927.4 718.2,927.6 720.1,927.9 722.1,928.1 724.0,928.4 726.0,928.7 728.0,929.0 730.0,929.3 732.0,929.6 734.1,929.9 736.1,930.3 738.2,930.6 740.3,931.0 742.5,931.4 744.6,931.8 746.8,932.2 749.0,932.6 751.3,933.0 753.5,933.4 755.7,933.9 757.7,934.5 759.7,935.2 761.5,935.9 763.1,936.8 764.5,937.8 765.7,938.9 766.5,940.2 766.9,941.5 766.8,942.9 766.3,944.3 765.4,945.5 764.2,946.7 762.7,947.7 760.9,948.6 758.9,949.5 756.7,950.2 754.4,950.9 752.0,951.6 749.4,952.1 746.9,952.7 744.3,953.2 741.7,953.6 739.2,954.1 736.8,954.5 734.5,954.9 732.4,955.4 730.5,955.8 728.8,956.3 727.4,956.8 726.3,957.4 725.5,957.9 725.1,958.6 724.9,959.2 724.7,959.9 724.5,960.5 724.0,961.1 723.1,961.5 721.7,961.8 719.6,962.0 716.6,961.9 712.7,961.7 707.6,961.2 701.3,960.4" stroke="#dc3cdc"/>
<path d="M679.0,959.5 L676.8,959.3 674.5,959.1 672.3,958.8 670.0,958.5 667.8,958.2 665.6,957.8 663.4,957.4 661.2,957.0 659.0,956.5 656.8,956.0 654.7,955.4 652.5,954.9 650.3,954.2 648.2,953.6 646.0,952.9 643.9,952.2" stroke="#dc3cdc"/>
<path d="M785.8,759.8 L787.6,760.8 789.3,761.7 791.1,762.7 792.9,763.6 794.7,764.5 796.5,765.4 798.3,766.4 800.1,767.3 802.0,768.2 803.8,769.1 805.7,770.0 807.5,770.8 809.4,771.7 811.2,772.6 813.1,773.5 814.9,774.4 816.8,775.3 818.7,776.2 820.5,777.1 822.4,778.0 824.3,778.9 826.1,779.8 828.0,780.7 829.8,781.6 831.7,782.5 833.5,783.4 835.4,784.4 837.2,785.3 839.0,786.3 840.9,787.2 842.7,788.2 844.5,789.2 846.3,790.2 848.1,791.2 849.9,792.2 851.6,793.3 853.4,794.3 855.1,795.4 856.8,796.5 858.6,797.6 860.3,798.7 861.9,799.8 863.6,801.0 865.3,802.2 866.9,803.4 868.5,804.6 870.1,805.8 871.7,807.1 873.2,808.4 874.8,809.7 876.3,811.1 877.8,812.4 879.2,813.8 880.7,815.2 882.1,816.7 883.5,818.2 884.9,819.7 886.2,821.2 887.5,822.8 888.8,824.4 890.1,826.0 891.3,827.7 892.5,829.4" stroke="#dc3cdc"/>
<path d="M893.2,859.3 L893.4,861.3 893.6,863.3 893.7,865.3 893.9,867.3 894.0,869.3 894.1,871.4 894.1,873.4 894.1,875.5 894.1,877.5 894.1,879.6 894.0,881.7 893.9,883.7 893.8,885.8 893.6,887.9 893.4,889.9 893.1,891.9 892.8,894.0 892.4,896.0 892.0,898.0 891.5,899.9 891.0,901.9 890.4,903.8 889.8,905.7 889.1,907.6 888.4,909.5 887.6,911.3 886.7,913.1 885.9,914.9 884.9,916.6 884.0,918.3 882.9,920.0 881.8,921.6 880.7,923.2 879.5,924.7 878.3,926.3 877.0,927.7 875.7,929.2 874.3,930.5 872.9,931.9 871.4,933.2 869.9,934.5 868.4,935.8 866.8,937.0 865.2,938.2 863.6,939.3 861.9,940.4 860.2,941.5 858.5,942.5 856.7,943.6 854.9,944.6 853.1,945.5 851.3,946.5 849.5,947.4 847.6,948.3 845.7,949.1 843.8,949.9 841.9,950.8 840.0,951.5 838.0,952.3 836.1,953.0 834.2,953.8 832.2,954.5 830.2,955.1 828.3,955.8 826.3,956.4 824.3,957.1 822.4,957.7 820.4,958.3 818.4,958.8 816.5,959.4 814.5,959.9 812.5,960.4 810.6,960.9 808.6,961.4 806.6,961.9 804.7,962.4 802.7,962.8 800.7,963.2 798.7,963.6 796.8,964.0 794.8,964.4 792.8,964.8 790.8,965.2 788.8,965.5 786.9,965.8 784.9,966.2 782.9,966.5 780.9,966.8 778.9,967.1 776.9,967.3 774.9,967.6 773.0,967.9 771.0,968.1 769.0,968.3 767.0,968.6 765.0,968.8 763.0,969.0 761.0,969.2 759.0,969.4 757.0,969.6 755.0,969.7 753.0,969.9 751.0,970.1 749.0,970.2 747.0,970.4 745.0,970.5 743.0,970.6 741.0,970.8 738.9,970.9 736.9,971.0 734.9,971.1 732.9,971.2 730.9,971.3 728.9,971.4 726.8,971.5 724.8,971.6 722.8,971.7 720.8,971.8 718.8,971.9 716.7,971.9 714.7,972.0 712.7,972.1 710.6,972.2 708.6,972.2 706.6,972.3 704.5,972.4 702.5,972.5 700.4,972.5 698.4,972.6" stroke="#dc3cdc"/>
<path d="M675.0,972.1 L643.9,971.2" stroke="#dc3cdc"/>
<path d="M836.8,759.8 L838.7,760.6 840.6,761.4 842.5,762.2 844.4,763.1 846.2,763.9 848.1,764.7 850.0,765.5 851.9,766.4 853.8,767.2 855.6,768.1 857.5,768.9 859.4,769.7 861.3,770.6 863.1,771.4 865.0,772.3 866.9,773.1 868.8,774.0 870.6,774.8 872.5,775.7 874.4,776.5 876.3,777.4 878.1,778.2 880.0,779.1 881.9,779.9 883.8,780.7 885.6,781.6 887.5,782.4 889.4,783.3 891.3,784.1 893.2,784.9 895.0,785.8 896.9,786.6 898.8,787.4 900.7,788.3 902.6,789.1 904.5,789.9 906.4,790.7 908.2,791.5 910.1,792.3 912.0,793.1 913.9,793.9 915.8,794.7 917.7,795.5 919.6,796.2 921.5,797.0 923.5,797.8 925.4,798.5 927.3,799.3 929.2,800.0 931.1,800.8 933.0,801.5 935.0,802.2 936.9,802.9 938.8,803.7 940.8,804.4 942.7,805.0 944.7,805.7 946.6,806.4" stroke="#e87a82"/>
<path d="M971.1,820.2 L973.0,821.3 975.0,822.4 976.9,823.6 978.8,824.7 980.6,826.0 982.5,827.2 984.3,828.5 986.1,829.8 987.9,831.1 989.7,832.5 991.4,833.9 993.1,835.3 994.8,836.7 996.5,838.2" stroke="#e87a82"/>
<path d="M867.8,759.8 L869.7,760.7 871.7,761.5 873.6,762.4 875.5,763.2 877.5,764.0 879.4,764.8 881.4,765.6 883.3,766.4 885.2,767.2 887.2,768.0 889.2,768.8 891.1,769.6 893.1,770.3 895.0,771.1 897.0,771.8 899.0,772.6 901.0,773.3 902.9,774.1 904.9,774.8 906.9,775.5 908.9,776.2 910.8,776.9 912.8,777.6 914.8,778.3 916.8,779.0 918.8,779.7 920.8,780.4 922.8,781.1 924.8,781.7 926.8,782.4 928.8,783.1 930.8,783.7 932.8,784.4 934.8,785.1 936.8,785.7 938.8,786.4 940.8,787.0" stroke="#eeee3c"/>
<path d="M976.9,800.4 L996.5,807.4" stroke="#eeee3c"/>
<path d="M643.9,976.0 L646.0,976.2 648.1,976.3 650.2,976.5 652.3,976.6 654.5,976.7 656.6,976.9 658.7,977.0 660.8,977.2 662.9,977.3 665.0,977.5 667.1,977.6 669.2,977.7 671.4,977.9 673.5,978.0 675.6,978.2 677.7,978.3 679.8,978.5 681.9,978.6 684.0,978.8 686.1,979.0 688.2,979.1 690.4,979.3 692.5,979.5 694.6,979.7 696.7,979.9 698.8,980.1 700.9,980.3 703.0,980.5" stroke="#e87a82"/>
<path d="M727.6,980.9 L729.6,980.9 731.7,980.9 733.7,980.9 735.8,980.9 737.8,980.9 739.8,980.8 741.9,980.7 743.9,980.7 745.9,980.6 748.0,980.5 750.0,980.4 752.0,980.2 754.0,980.1 756.1,979.9 758.1,979.8 760.1,979.6 762.1,979.4 764.1,979.2 766.1,979.0 768.1,978.7 770.1,978.5 772.1,978.2 774.1,978.0 776.1,977.7 778.1,977.4 780.1,977.1 782.1,976.8 784.1,976.5 786.1,976.2 788.1,975.9 790.1,975.5 792.1,975.2 794.1,974.8 796.1,974.5 798.0,974.1 800.0,973.7 802.0,973.3 804.0,972.9 806.0,972.5 807.9,972.1 809.9,971.7 811.9,971.3 813.9,970.8 815.8,970.4 817.8,970.0 819.8,969.5 821.8,969.1 823.7,968.6 825.7,968.1 827.7,967.6 829.6,967.2 831.6,966.7 833.6,966.2 835.5,965.7 837.5,965.2 839.5,964.7 841.4,964.2 843.4,963.7 845.3,963.2 847.3,962.7 849.3,962.1 851.2,961.6 853.2,961.1 855.1,960.6 857.1,960.0 859.0,959.5 861.0,959.0 863.0,958.4 864.9,957.9 866.9,957.3 868.8,956.8 870.8,956.2 872.7,955.7 874.7,955.1 876.6,954.6 878.6,954.0 880.5,953.4 882.5,952.9 884.4,952.3 886.4,951.7 888.3,951.1 890.2,950.6 892.2,950.0 894.1,949.4 896.1,948.8 898.0,948.2 899.9,947.6 901.9,947.0 903.8,946.4 905.7,945.8 907.7,945.2 909.6,944.6 911.5,944.0 913.5,943.4 915.4,942.8 917.3,942.2 919.2,941.5 921.2,940.9 923.1,940.3 925.0,939.6 926.9,938.9 928.8,938.3 930.7,937.6 932.6,936.9 934.5,936.2 936.4,935.5 938.3,934.8 940.2,934.1 942.1,933.4 943.9,932.6 945.8,931.9 947.7,931.1 949.5,930.3 951.4,929.5 953.2,928.7 955.1,927.9 956.9,927.0 958.8,926.2 960.6,925.3" stroke="#e87a82"/>
<path d="M982.8,910.1 L996.2,899.6" stroke="#e87a82"/>
<path d="M643.9,976.5 L646.1,976.8 648.3,977.0 650.5,977.3 652.7,977.6 654.9,977.9 657.1,978.2 659.3,978.5 661.5,978.8 663.7,979.1 665.8,979.4 668.0,979.7 670.2,980.0 672.4,980.3 674.6,980.6 676.8,980.9 679.0,981.2" stroke="#eeee3c"/>
<path d="M820.9,981.0 L822.9,980.6 824.9,980.1 826.9,979.7 828.9,979.3 830.9,978.8 832.9,978.4 834.9,978.0 836.9,977.5 838.8,977.1 840.8,976.6 842.8,976.2 844.8,975.8 846.8,975.3 848.8,974.8 850.8,974.4 852.8,973.9 854.8,973.5 856.7,973.0 858.7,972.6 860.7,972.1 862.7,971.6 864.7,971.2 866.7,970.7 868.7,970.2 870.6,969.7 872.6,969.2 874.6,968.8 876.6,968.3 878.6,967.8 880.6,967.3 882.5,966.8 884.5,966.3 886.5,965.8 888.5,965.3 890.4,964.8 892.4,964.3 894.4,963.8 896.4,963.3 898.4,962.8 900.3,962.3 902.3,961.8 904.3,961.3 906.3,960.7 908.2,960.2 910.2,959.7 912.2,959.2 914.1,958.6 916.1,958.1 918.1,957.6 920.0,957.0 922.0,956.5 924.0,956.0 925.9,955.4 927.9,954.9 929.9,954.3 931.8,953.8 933.8,953.2" stroke="#eeee3c"/>
<path d="M968.8,940.4 L996.2,929.9" stroke="#eeee3c"/>
</g>
<g clip-path="url(#cpa)"><g transform="rotate(-90 147.0 57.6)"><text x="147.0" y="65.8" font-size="23" text-anchor="middle">0.1</text><rect x="151.12" y="63.04" width="4.81" height="3.91" fill="#fff"/><rect x="157.81" y="63.04" width="4.81" height="3.91" fill="#fff"/></g></g>
<g clip-path="url(#cpa)"><g transform="rotate(-90 182.3 78.8)"><text x="182.3" y="87.0" font-size="23" text-anchor="middle">0.2</text></g></g>
<g clip-path="url(#cpa)"><g transform="rotate(3 278.3 170.0)"><text x="278.3" y="178.2" font-size="23" text-anchor="middle">0.4</text></g></g>
<g clip-path="url(#cpa)"><g transform="rotate(0 283.5 227.3)"><text x="283.5" y="235.5" font-size="23" text-anchor="middle">0.6</text></g></g>
<g clip-path="url(#cpa)"><g transform="rotate(13 156.0 193.5)"><text x="156.0" y="201.7" font-size="23" text-anchor="middle">1</text><rect x="150.53" y="198.94" width="4.81" height="3.91" fill="#fff"/><rect x="157.22" y="198.94" width="4.81" height="3.91" fill="#fff"/></g></g>
<g clip-path="url(#cpa)"><g transform="rotate(-90 292.6 41.0)"><text x="292.6" y="49.2" font-size="23" text-anchor="middle">0.2</text></g></g>
<g clip-path="url(#cpa)"><g transform="rotate(-90 338.0 43.0)"><text x="338.0" y="51.2" font-size="23" text-anchor="middle">0.3</text></g></g>
<g clip-path="url(#cpa)"><g transform="rotate(-90 421.5 91.2)"><text x="421.5" y="99.4" font-size="23" text-anchor="middle">1</text><rect x="416.03" y="96.64" width="4.81" height="3.91" fill="#fff"/><rect x="422.72" y="96.64" width="4.81" height="3.91" fill="#fff"/></g></g>
<g clip-path="url(#cpa)"><g transform="rotate(90 460.7 63.4)"><text x="460.7" y="71.6" font-size="23" text-anchor="middle">1.6</text><rect x="445.63" y="68.84" width="4.81" height="3.91" fill="#fff"/><rect x="452.33" y="68.84" width="4.81" height="3.91" fill="#fff"/></g></g>
<g clip-path="url(#cpa)"><g transform="rotate(90 493.5 48.3)"><text x="493.5" y="56.5" font-size="23" text-anchor="middle">2</text></g></g>
<g clip-path="url(#cpa)"><g transform="rotate(-90 594.6 50.0)"><text x="594.6" y="58.2" font-size="23" text-anchor="middle">2.2</text></g></g>
<g clip-path="url(#cpa)"><g transform="rotate(-90 624.8 37.0)"><text x="624.8" y="45.2" font-size="23" text-anchor="middle">2</text></g></g>
<g clip-path="url(#cpa)"><g transform="rotate(-90 658.0 40.0)"><text x="658.0" y="48.2" font-size="23" text-anchor="middle">1.6</text><rect x="642.93" y="45.44" width="4.81" height="3.91" fill="#fff"/><rect x="649.63" y="45.44" width="4.81" height="3.91" fill="#fff"/></g></g>
<g clip-path="url(#cpa)"><g transform="rotate(90 696.5 89.7)"><text x="696.5" y="97.9" font-size="23" text-anchor="middle">1</text><rect x="691.03" y="95.14" width="4.81" height="3.91" fill="#fff"/><rect x="697.72" y="95.14" width="4.81" height="3.91" fill="#fff"/></g></g>
<g clip-path="url(#cpa)"><g transform="rotate(90 722.0 82.6)"><text x="722.0" y="90.8" font-size="23" text-anchor="middle">0.6</text></g></g>
<g clip-path="url(#cpa)"><g transform="rotate(90 741.5 84.6)"><text x="741.5" y="92.8" font-size="23" text-anchor="middle">0.4</text></g></g>
<g clip-path="url(#cpa)"><g transform="rotate(90 757.4 41.0)"><text x="757.4" y="49.2" font-size="23" text-anchor="middle">0.2</text></g></g>
<g clip-path="url(#cpa)"><g transform="rotate(-90 794.5 42.0)"><text x="794.5" y="50.2" font-size="23" text-anchor="middle">0.3</text></g></g>
<g clip-path="url(#cpa)"><g transform="rotate(90 984.0 52.8)"><text x="984.0" y="61.0" font-size="23" text-anchor="middle">0.2</text></g></g>
<g clip-path="url(#cpb)"><g transform="rotate(-76 137.0 459.0)"><text x="137.0" y="467.2" font-size="23" text-anchor="middle">20</text></g></g>
<g clip-path="url(#cpb)"><g transform="rotate(-85 178.3 433.0)"><text x="178.3" y="441.2" font-size="23" text-anchor="middle">10</text><rect x="166.43" y="438.44" width="4.81" height="3.91" fill="#fff"/><rect x="173.12" y="438.44" width="4.81" height="3.91" fill="#fff"/></g></g>
<g clip-path="url(#cpb)"><g transform="rotate(-90 214.3 432.3)"><text x="214.3" y="440.5" font-size="23" text-anchor="middle">3</text></g></g>
<g clip-path="url(#cpb)"><g transform="rotate(14 236.0 486.8)"><text x="236.0" y="495.0" font-size="23" text-anchor="middle">1.5</text><rect x="220.93" y="492.24" width="4.81" height="3.91" fill="#fff"/><rect x="227.63" y="492.24" width="4.81" height="3.91" fill="#fff"/></g></g>
<g clip-path="url(#cpb)"><g transform="rotate(15 229.5 532.5)"><text x="229.5" y="540.7" font-size="23" text-anchor="middle">1</text><rect x="224.03" y="537.94" width="4.81" height="3.91" fill="#fff"/><rect x="230.72" y="537.94" width="4.81" height="3.91" fill="#fff"/></g></g>
<g clip-path="url(#cpb)"><g transform="rotate(-90 260.3 432.0)"><text x="260.3" y="440.2" font-size="23" text-anchor="middle">3</text></g></g>
<g clip-path="url(#cpb)"><g transform="rotate(-90 291.3 435.2)"><text x="291.3" y="443.4" font-size="23" text-anchor="middle">10</text><rect x="279.43" y="440.64" width="4.81" height="3.91" fill="#fff"/><rect x="286.12" y="440.64" width="4.81" height="3.91" fill="#fff"/></g></g>
<g clip-path="url(#cpb)"><g transform="rotate(-88 322.5 436.0)"><text x="322.5" y="444.2" font-size="23" text-anchor="middle">20</text></g></g>
<g clip-path="url(#cpb)"><g transform="rotate(-62 452.0 438.0)"><text x="452.0" y="446.2" font-size="23" text-anchor="middle">50</text></g></g>
<g clip-path="url(#cpb)"><g transform="rotate(-8 438.8 511.3)"><text x="438.8" y="519.5" font-size="23" text-anchor="middle">100</text><rect x="420.54" y="516.74" width="4.81" height="3.91" fill="#fff"/><rect x="427.23" y="516.74" width="4.81" height="3.91" fill="#fff"/></g></g>
<g clip-path="url(#cpb)"><g transform="rotate(-5 445.0 532.7)"><text x="445.0" y="540.9" font-size="23" text-anchor="middle">200</text></g></g>
<g clip-path="url(#cpc)"><g transform="rotate(-70 791.0 434.2)"><text x="791.0" y="442.4" font-size="23" text-anchor="middle">1</text><rect x="785.53" y="439.64" width="4.81" height="3.91" fill="#fff"/><rect x="792.22" y="439.64" width="4.81" height="3.91" fill="#fff"/></g></g>
<g clip-path="url(#cpc)"><g transform="rotate(48 660.6 444.9)"><text x="660.6" y="453.1" font-size="23" text-anchor="middle">20</text></g></g>
<g clip-path="url(#cpc)"><g transform="rotate(40 664.5 461.5)"><text x="664.5" y="469.7" font-size="23" text-anchor="middle">30</text></g></g>
<g clip-path="url(#cpc)"><g transform="rotate(20 664.6 495.0)"><text x="664.6" y="503.2" font-size="23" text-anchor="middle">40</text></g></g>
<g clip-path="url(#cpc)"><g transform="rotate(-59 847.5 436.0)"><text x="847.5" y="444.2" font-size="23" text-anchor="middle">20</text></g></g>
<g clip-path="url(#cpc)"><g transform="rotate(-57 869.2 437.0)"><text x="869.2" y="445.2" font-size="23" text-anchor="middle">30</text></g></g>
<g clip-path="url(#cpc)"><g transform="rotate(-55 904.2 435.5)"><text x="904.2" y="443.7" font-size="23" text-anchor="middle">40</text></g></g>
<g clip-path="url(#cpc)"><g transform="rotate(-57 947.0 437.0)"><text x="947.0" y="445.2" font-size="23" text-anchor="middle">50</text></g></g>
<g clip-path="url(#cpd)"><g transform="rotate(40 219.2 793.7)"><text x="219.2" y="801.9" font-size="23" text-anchor="middle">20</text></g></g>
<g clip-path="url(#cpd)"><g transform="rotate(-40 165.5 920.0)"><text x="165.5" y="928.2" font-size="23" text-anchor="middle">30</text></g></g>
<g clip-path="url(#cpd)"><g transform="rotate(55 313.4 794.0)"><text x="313.4" y="802.2" font-size="23" text-anchor="middle">5</text></g></g>
<g clip-path="url(#cpd)"><g transform="rotate(60 359.5 797.8)"><text x="359.5" y="806.0" font-size="23" text-anchor="middle">1</text><rect x="354.03" y="803.24" width="4.81" height="3.91" fill="#fff"/><rect x="360.72" y="803.24" width="4.81" height="3.91" fill="#fff"/></g></g>
<g clip-path="url(#cpd)"><g transform="rotate(-55 400.2 788.0)"><text x="400.2" y="796.2" font-size="23" text-anchor="middle">0.4</text></g></g>
<g clip-path="url(#cpd)"><g transform="rotate(55 396.6 938.3)"><text x="396.6" y="946.5" font-size="23" text-anchor="middle">0.4</text></g></g>
<g clip-path="url(#cpd)"><g transform="rotate(-60 413.8 797.5)"><text x="413.8" y="805.7" font-size="23" text-anchor="middle">1</text><rect x="408.33" y="802.94" width="4.81" height="3.91" fill="#fff"/><rect x="415.02" y="802.94" width="4.81" height="3.91" fill="#fff"/></g></g>
<g clip-path="url(#cpd)"><g transform="rotate(-75 436.0 800.0)"><text x="436.0" y="808.2" font-size="23" text-anchor="middle">5</text></g></g>
<g clip-path="url(#cpd)"><g transform="rotate(-90 461.5 807.5)"><text x="461.5" y="815.7" font-size="23" text-anchor="middle">20</text></g></g>
<g clip-path="url(#cpd)"><g transform="rotate(90 471.3 924.8)"><text x="471.3" y="933.0" font-size="23" text-anchor="middle">30</text></g></g>
<g clip-path="url(#cpe)"><g transform="rotate(0 666.0 787.7)"><text x="666.0" y="795.9" font-size="23" text-anchor="middle">1</text><rect x="660.53" y="793.14" width="4.81" height="3.91" fill="#fff"/><rect x="667.22" y="793.14" width="4.81" height="3.91" fill="#fff"/></g></g>
<g clip-path="url(#cpe)"><g transform="rotate(0 690.2 821.0)"><text x="690.2" y="829.2" font-size="23" text-anchor="middle">4</text></g></g>
<g clip-path="url(#cpe)"><g transform="rotate(-10 792.4 852.0)"><text x="792.4" y="860.2" font-size="23" text-anchor="middle">8</text></g></g>
<g clip-path="url(#cpe)"><g transform="rotate(0 684.0 968.5)"><text x="684.0" y="976.7" font-size="23" text-anchor="middle">8</text></g></g>
<g clip-path="url(#cpe)"><g transform="rotate(0 695.0 960.0)"><text x="695.0" y="968.2" font-size="23" text-anchor="middle">4</text></g></g>
<g clip-path="url(#cpe)"><g transform="rotate(90 894.0 845.0)"><text x="894.0" y="853.2" font-size="23" text-anchor="middle">15</text><rect x="882.13" y="850.44" width="4.81" height="3.91" fill="#fff"/><rect x="888.83" y="850.44" width="4.81" height="3.91" fill="#fff"/></g></g>
<g clip-path="url(#cpe)"><g transform="rotate(0 688.5 978.5)"><text x="688.5" y="986.7" font-size="23" text-anchor="middle">15</text><rect x="676.63" y="983.94" width="4.81" height="3.91" fill="#fff"/><rect x="683.33" y="983.94" width="4.81" height="3.91" fill="#fff"/></g></g>
<g clip-path="url(#cpe)"><g transform="rotate(20 959.5 793.3)"><text x="959.5" y="801.5" font-size="23" text-anchor="middle">100</text><rect x="941.24" y="798.74" width="4.81" height="3.91" fill="#fff"/><rect x="947.93" y="798.74" width="4.81" height="3.91" fill="#fff"/></g></g>
<g clip-path="url(#cpe)"><g transform="rotate(25 958.9 814.0)"><text x="958.9" y="822.2" font-size="23" text-anchor="middle">50</text></g></g>
<g clip-path="url(#cpe)"><g transform="rotate(0 715.5 980.5)"><text x="715.5" y="988.7" font-size="23" text-anchor="middle">50</text></g></g>
<g clip-path="url(#cpe)"><g transform="rotate(-25 972.0 917.4)"><text x="972.0" y="925.6" font-size="23" text-anchor="middle">50</text></g></g>
<g clip-path="url(#cpe)"><g transform="rotate(-20 950.2 948.3)"><text x="950.2" y="956.5" font-size="23" text-anchor="middle">100</text><rect x="931.94" y="953.74" width="4.81" height="3.91" fill="#fff"/><rect x="938.63" y="953.74" width="4.81" height="3.91" fill="#fff"/></g></g>
<rect x="123.80" y="32.40" width="870.50" height="281.10" fill="none" stroke="#111" stroke-width="1.3"/>
<line x1="210.75" y1="313.50" x2="210.75" y2="305.50" stroke="#111" stroke-width="1.20"/>
<line x1="210.75" y1="32.40" x2="210.75" y2="40.40" stroke="#111" stroke-width="1.20"/>
<line x1="384.65" y1="313.50" x2="384.65" y2="305.50" stroke="#111" stroke-width="1.20"/>
<line x1="384.65" y1="32.40" x2="384.65" y2="40.40" stroke="#111" stroke-width="1.20"/>
<line x1="558.55" y1="313.50" x2="558.55" y2="305.50" stroke="#111" stroke-width="1.20"/>
<line x1="558.55" y1="32.40" x2="558.55" y2="40.40" stroke="#111" stroke-width="1.20"/>
<line x1="732.45" y1="313.50" x2="732.45" y2="305.50" stroke="#111" stroke-width="1.20"/>
<line x1="732.45" y1="32.40" x2="732.45" y2="40.40" stroke="#111" stroke-width="1.20"/>
<line x1="906.35" y1="313.50" x2="906.35" y2="305.50" stroke="#111" stroke-width="1.20"/>
<line x1="906.35" y1="32.40" x2="906.35" y2="40.40" stroke="#111" stroke-width="1.20"/>
<line x1="123.80" y1="117.50" x2="131.80" y2="117.50" stroke="#111" stroke-width="1.20"/>
<line x1="994.30" y1="117.50" x2="986.30" y2="117.50" stroke="#111" stroke-width="1.20"/>
<line x1="123.80" y1="202.60" x2="131.80" y2="202.60" stroke="#111" stroke-width="1.20"/>
<line x1="994.30" y1="202.60" x2="986.30" y2="202.60" stroke="#111" stroke-width="1.20"/>
<line x1="123.80" y1="287.70" x2="131.80" y2="287.70" stroke="#111" stroke-width="1.20"/>
<line x1="994.30" y1="287.70" x2="986.30" y2="287.70" stroke="#111" stroke-width="1.20"/>
<line x1="123.80" y1="91.88" x2="127.80" y2="91.88" stroke="#111" stroke-width="1.20"/>
<line x1="994.30" y1="91.88" x2="990.30" y2="91.88" stroke="#111" stroke-width="1.20"/>
<line x1="123.80" y1="76.90" x2="127.80" y2="76.90" stroke="#111" stroke-width="1.20"/>
<line x1="994.30" y1="76.90" x2="990.30" y2="76.90" stroke="#111" stroke-width="1.20"/>
<line x1="123.80" y1="66.26" x2="127.80" y2="66.26" stroke="#111" stroke-width="1.20"/>
<line x1="994.30" y1="66.26" x2="990.30" y2="66.26" stroke="#111" stroke-width="1.20"/>
<line x1="123.80" y1="58.02" x2="127.80" y2="58.02" stroke="#111" stroke-width="1.20"/>
<line x1="994.30" y1="58.02" x2="990.30" y2="58.02" stroke="#111" stroke-width="1.20"/>
<line x1="123.80" y1="51.28" x2="127.80" y2="51.28" stroke="#111" stroke-width="1.20"/>
<line x1="994.30" y1="51.28" x2="990.30" y2="51.28" stroke="#111" stroke-width="1.20"/>
<line x1="123.80" y1="45.58" x2="127.80" y2="45.58" stroke="#111" stroke-width="1.20"/>
<line x1="994.30" y1="45.58" x2="990.30" y2="45.58" stroke="#111" stroke-width="1.20"/>
<line x1="123.80" y1="40.65" x2="127.80" y2="40.65" stroke="#111" stroke-width="1.20"/>
<line x1="994.30" y1="40.65" x2="990.30" y2="40.65" stroke="#111" stroke-width="1.20"/>
<line x1="123.80" y1="36.29" x2="127.80" y2="36.29" stroke="#111" stroke-width="1.20"/>
<line x1="994.30" y1="36.29" x2="990.30" y2="36.29" stroke="#111" stroke-width="1.20"/>
<line x1="123.80" y1="176.98" x2="127.80" y2="176.98" stroke="#111" stroke-width="1.20"/>
<line x1="994.30" y1="176.98" x2="990.30" y2="176.98" stroke="#111" stroke-width="1.20"/>
<line x1="123.80" y1="162.00" x2="127.80" y2="162.00" stroke="#111" stroke-width="1.20"/>
<line x1="994.30" y1="162.00" x2="990.30" y2="162.00" stroke="#111" stroke-width="1.20"/>
<line x1="123.80" y1="151.36" x2="127.80" y2="151.36" stroke="#111" stroke-width="1.20"/>
<line x1="994.30" y1="151.36" x2="990.30" y2="151.36" stroke="#111" stroke-width="1.20"/>
<line x1="123.80" y1="143.12" x2="127.80" y2="143.12" stroke="#111" stroke-width="1.20"/>
<line x1="994.30" y1="143.12" x2="990.30" y2="143.12" stroke="#111" stroke-width="1.20"/>
<line x1="123.80" y1="136.38" x2="127.80" y2="136.38" stroke="#111" stroke-width="1.20"/>
<line x1="994.30" y1="136.38" x2="990.30" y2="136.38" stroke="#111" stroke-width="1.20"/>
<line x1="123.80" y1="130.68" x2="127.80" y2="130.68" stroke="#111" stroke-width="1.20"/>
<line x1="994.30" y1="130.68" x2="990.30" y2="130.68" stroke="#111" stroke-width="1.20"/>
<line x1="123.80" y1="125.75" x2="127.80" y2="125.75" stroke="#111" stroke-width="1.20"/>
<line x1="994.30" y1="125.75" x2="990.30" y2="125.75" stroke="#111" stroke-width="1.20"/>
<line x1="123.80" y1="121.39" x2="127.80" y2="121.39" stroke="#111" stroke-width="1.20"/>
<line x1="994.30" y1="121.39" x2="990.30" y2="121.39" stroke="#111" stroke-width="1.20"/>
<line x1="123.80" y1="262.08" x2="127.80" y2="262.08" stroke="#111" stroke-width="1.20"/>
<line x1="994.30" y1="262.08" x2="990.30" y2="262.08" stroke="#111" stroke-width="1.20"/>
<line x1="123.80" y1="247.10" x2="127.80" y2="247.10" stroke="#111" stroke-width="1.20"/>
<line x1="994.30" y1="247.10" x2="990.30" y2="247.10" stroke="#111" stroke-width="1.20"/>
<line x1="123.80" y1="236.46" x2="127.80" y2="236.46" stroke="#111" stroke-width="1.20"/>
<line x1="994.30" y1="236.46" x2="990.30" y2="236.46" stroke="#111" stroke-width="1.20"/>
<line x1="123.80" y1="228.22" x2="127.80" y2="228.22" stroke="#111" stroke-width="1.20"/>
<line x1="994.30" y1="228.22" x2="990.30" y2="228.22" stroke="#111" stroke-width="1.20"/>
<line x1="123.80" y1="221.48" x2="127.80" y2="221.48" stroke="#111" stroke-width="1.20"/>
<line x1="994.30" y1="221.48" x2="990.30" y2="221.48" stroke="#111" stroke-width="1.20"/>
<line x1="123.80" y1="215.78" x2="127.80" y2="215.78" stroke="#111" stroke-width="1.20"/>
<line x1="994.30" y1="215.78" x2="990.30" y2="215.78" stroke="#111" stroke-width="1.20"/>
<line x1="123.80" y1="210.85" x2="127.80" y2="210.85" stroke="#111" stroke-width="1.20"/>
<line x1="994.30" y1="210.85" x2="990.30" y2="210.85" stroke="#111" stroke-width="1.20"/>
<line x1="123.80" y1="206.49" x2="127.80" y2="206.49" stroke="#111" stroke-width="1.20"/>
<line x1="994.30" y1="206.49" x2="990.30" y2="206.49" stroke="#111" stroke-width="1.20"/>
<line x1="123.80" y1="306.58" x2="127.80" y2="306.58" stroke="#111" stroke-width="1.20"/>
<line x1="994.30" y1="306.58" x2="990.30" y2="306.58" stroke="#111" stroke-width="1.20"/>
<line x1="123.80" y1="300.88" x2="127.80" y2="300.88" stroke="#111" stroke-width="1.20"/>
<line x1="994.30" y1="300.88" x2="990.30" y2="300.88" stroke="#111" stroke-width="1.20"/>
<line x1="123.80" y1="295.95" x2="127.80" y2="295.95" stroke="#111" stroke-width="1.20"/>
<line x1="994.30" y1="295.95" x2="990.30" y2="295.95" stroke="#111" stroke-width="1.20"/>
<line x1="123.80" y1="291.59" x2="127.80" y2="291.59" stroke="#111" stroke-width="1.20"/>
<line x1="994.30" y1="291.59" x2="990.30" y2="291.59" stroke="#111" stroke-width="1.20"/>
<text x="92.10" y="44.90" font-size="33" text-anchor="end">10</text><rect x="56.72" y="40.94" width="6.90" height="5.61" fill="#fff"/><rect x="66.33" y="40.94" width="6.90" height="5.61" fill="#fff"/>
<text x="91.60" y="24.40" font-size="21" text-anchor="start">1</text><rect x="92.44" y="21.88" width="4.39" height="3.57" fill="#fff"/><rect x="98.55" y="21.88" width="4.39" height="3.57" fill="#fff"/>
<text x="92.10" y="130.00" font-size="33" text-anchor="end">10</text><rect x="56.72" y="126.04" width="6.90" height="5.61" fill="#fff"/><rect x="66.33" y="126.04" width="6.90" height="5.61" fill="#fff"/>
<text x="91.60" y="109.50" font-size="21" text-anchor="start">0</text>
<text x="92.10" y="215.10" font-size="33" text-anchor="end">10</text><rect x="56.72" y="211.14" width="6.90" height="5.61" fill="#fff"/><rect x="66.33" y="211.14" width="6.90" height="5.61" fill="#fff"/>
<text x="91.60" y="194.60" font-size="21" text-anchor="start">−1</text><rect x="104.70" y="192.08" width="4.39" height="3.57" fill="#fff"/><rect x="110.81" y="192.08" width="4.39" height="3.57" fill="#fff"/>
<text x="92.10" y="300.20" font-size="33" text-anchor="end">10</text><rect x="56.72" y="296.24" width="6.90" height="5.61" fill="#fff"/><rect x="66.33" y="296.24" width="6.90" height="5.61" fill="#fff"/>
<text x="91.60" y="279.70" font-size="21" text-anchor="start">−2</text>
<text x="187.81" y="351.40" font-size="33" text-anchor="start">0.2</text>
<rect x="169.80" y="341.80" width="16.40" height="1.90" fill="#1a1a1a"/>
<text x="361.71" y="351.40" font-size="33" text-anchor="start">0.1</text><rect x="390.56" y="347.44" width="6.90" height="5.61" fill="#fff"/><rect x="400.16" y="347.44" width="6.90" height="5.61" fill="#fff"/>
<rect x="343.70" y="341.80" width="16.40" height="1.90" fill="#1a1a1a"/>
<text x="549.38" y="351.40" font-size="33" text-anchor="start">0</text>
<text x="709.51" y="351.40" font-size="33" text-anchor="start">0.1</text><rect x="738.36" y="347.44" width="6.90" height="5.61" fill="#fff"/><rect x="747.96" y="347.44" width="6.90" height="5.61" fill="#fff"/>
<text x="883.41" y="351.40" font-size="33" text-anchor="start">0.2</text>
<rect x="125.30" y="425.50" width="355.10" height="214.30" fill="none" stroke="#111" stroke-width="1.3"/>
<line x1="243.66" y1="639.80" x2="243.66" y2="636.20" stroke="#111" stroke-width="1.20"/>
<line x1="243.66" y1="425.50" x2="243.66" y2="429.10" stroke="#111" stroke-width="1.20"/>
<line x1="362.03" y1="639.80" x2="362.03" y2="636.20" stroke="#111" stroke-width="1.20"/>
<line x1="362.03" y1="425.50" x2="362.03" y2="429.10" stroke="#111" stroke-width="1.20"/>
<line x1="125.30" y1="490.50" x2="129.10" y2="490.50" stroke="#111" stroke-width="1.20"/>
<line x1="480.40" y1="490.50" x2="476.60" y2="490.50" stroke="#111" stroke-width="1.20"/>
<line x1="125.30" y1="555.50" x2="129.10" y2="555.50" stroke="#111" stroke-width="1.20"/>
<line x1="480.40" y1="555.50" x2="476.60" y2="555.50" stroke="#111" stroke-width="1.20"/>
<line x1="125.30" y1="620.50" x2="129.10" y2="620.50" stroke="#111" stroke-width="1.20"/>
<line x1="480.40" y1="620.50" x2="476.60" y2="620.50" stroke="#111" stroke-width="1.20"/>
<line x1="125.30" y1="470.93" x2="127.30" y2="470.93" stroke="#111" stroke-width="1.20"/>
<line x1="480.40" y1="470.93" x2="478.40" y2="470.93" stroke="#111" stroke-width="1.20"/>
<line x1="125.30" y1="459.49" x2="127.30" y2="459.49" stroke="#111" stroke-width="1.20"/>
<line x1="480.40" y1="459.49" x2="478.40" y2="459.49" stroke="#111" stroke-width="1.20"/>
<line x1="125.30" y1="451.37" x2="127.30" y2="451.37" stroke="#111" stroke-width="1.20"/>
<line x1="480.40" y1="451.37" x2="478.40" y2="451.37" stroke="#111" stroke-width="1.20"/>
<line x1="125.30" y1="445.07" x2="127.30" y2="445.07" stroke="#111" stroke-width="1.20"/>
<line x1="480.40" y1="445.07" x2="478.40" y2="445.07" stroke="#111" stroke-width="1.20"/>
<line x1="125.30" y1="439.92" x2="127.30" y2="439.92" stroke="#111" stroke-width="1.20"/>
<line x1="480.40" y1="439.92" x2="478.40" y2="439.92" stroke="#111" stroke-width="1.20"/>
<line x1="125.30" y1="435.57" x2="127.30" y2="435.57" stroke="#111" stroke-width="1.20"/>
<line x1="480.40" y1="435.57" x2="478.40" y2="435.57" stroke="#111" stroke-width="1.20"/>
<line x1="125.30" y1="431.80" x2="127.30" y2="431.80" stroke="#111" stroke-width="1.20"/>
<line x1="480.40" y1="431.80" x2="478.40" y2="431.80" stroke="#111" stroke-width="1.20"/>
<line x1="125.30" y1="428.47" x2="127.30" y2="428.47" stroke="#111" stroke-width="1.20"/>
<line x1="480.40" y1="428.47" x2="478.40" y2="428.47" stroke="#111" stroke-width="1.20"/>
<line x1="125.30" y1="535.93" x2="127.30" y2="535.93" stroke="#111" stroke-width="1.20"/>
<line x1="480.40" y1="535.93" x2="478.40" y2="535.93" stroke="#111" stroke-width="1.20"/>
<line x1="125.30" y1="524.49" x2="127.30" y2="524.49" stroke="#111" stroke-width="1.20"/>
<line x1="480.40" y1="524.49" x2="478.40" y2="524.49" stroke="#111" stroke-width="1.20"/>
<line x1="125.30" y1="516.37" x2="127.30" y2="516.37" stroke="#111" stroke-width="1.20"/>
<line x1="480.40" y1="516.37" x2="478.40" y2="516.37" stroke="#111" stroke-width="1.20"/>
<line x1="125.30" y1="510.07" x2="127.30" y2="510.07" stroke="#111" stroke-width="1.20"/>
<line x1="480.40" y1="510.07" x2="478.40" y2="510.07" stroke="#111" stroke-width="1.20"/>
<line x1="125.30" y1="504.92" x2="127.30" y2="504.92" stroke="#111" stroke-width="1.20"/>
<line x1="480.40" y1="504.92" x2="478.40" y2="504.92" stroke="#111" stroke-width="1.20"/>
<line x1="125.30" y1="500.57" x2="127.30" y2="500.57" stroke="#111" stroke-width="1.20"/>
<line x1="480.40" y1="500.57" x2="478.40" y2="500.57" stroke="#111" stroke-width="1.20"/>
<line x1="125.30" y1="496.80" x2="127.30" y2="496.80" stroke="#111" stroke-width="1.20"/>
<line x1="480.40" y1="496.80" x2="478.40" y2="496.80" stroke="#111" stroke-width="1.20"/>
<line x1="125.30" y1="493.47" x2="127.30" y2="493.47" stroke="#111" stroke-width="1.20"/>
<line x1="480.40" y1="493.47" x2="478.40" y2="493.47" stroke="#111" stroke-width="1.20"/>
<line x1="125.30" y1="600.93" x2="127.30" y2="600.93" stroke="#111" stroke-width="1.20"/>
<line x1="480.40" y1="600.93" x2="478.40" y2="600.93" stroke="#111" stroke-width="1.20"/>
<line x1="125.30" y1="589.49" x2="127.30" y2="589.49" stroke="#111" stroke-width="1.20"/>
<line x1="480.40" y1="589.49" x2="478.40" y2="589.49" stroke="#111" stroke-width="1.20"/>
<line x1="125.30" y1="581.37" x2="127.30" y2="581.37" stroke="#111" stroke-width="1.20"/>
<line x1="480.40" y1="581.37" x2="478.40" y2="581.37" stroke="#111" stroke-width="1.20"/>
<line x1="125.30" y1="575.07" x2="127.30" y2="575.07" stroke="#111" stroke-width="1.20"/>
<line x1="480.40" y1="575.07" x2="478.40" y2="575.07" stroke="#111" stroke-width="1.20"/>
<line x1="125.30" y1="569.92" x2="127.30" y2="569.92" stroke="#111" stroke-width="1.20"/>
<line x1="480.40" y1="569.92" x2="478.40" y2="569.92" stroke="#111" stroke-width="1.20"/>
<line x1="125.30" y1="565.57" x2="127.30" y2="565.57" stroke="#111" stroke-width="1.20"/>
<line x1="480.40" y1="565.57" x2="478.40" y2="565.57" stroke="#111" stroke-width="1.20"/>
<line x1="125.30" y1="561.80" x2="127.30" y2="561.80" stroke="#111" stroke-width="1.20"/>
<line x1="480.40" y1="561.80" x2="478.40" y2="561.80" stroke="#111" stroke-width="1.20"/>
<line x1="125.30" y1="558.47" x2="127.30" y2="558.47" stroke="#111" stroke-width="1.20"/>
<line x1="480.40" y1="558.47" x2="478.40" y2="558.47" stroke="#111" stroke-width="1.20"/>
<line x1="125.30" y1="634.92" x2="127.30" y2="634.92" stroke="#111" stroke-width="1.20"/>
<line x1="480.40" y1="634.92" x2="478.40" y2="634.92" stroke="#111" stroke-width="1.20"/>
<line x1="125.30" y1="630.57" x2="127.30" y2="630.57" stroke="#111" stroke-width="1.20"/>
<line x1="480.40" y1="630.57" x2="478.40" y2="630.57" stroke="#111" stroke-width="1.20"/>
<line x1="125.30" y1="626.80" x2="127.30" y2="626.80" stroke="#111" stroke-width="1.20"/>
<line x1="480.40" y1="626.80" x2="478.40" y2="626.80" stroke="#111" stroke-width="1.20"/>
<line x1="125.30" y1="623.47" x2="127.30" y2="623.47" stroke="#111" stroke-width="1.20"/>
<line x1="480.40" y1="623.47" x2="478.40" y2="623.47" stroke="#111" stroke-width="1.20"/>
<text x="93.80" y="438.00" font-size="33" text-anchor="end">10</text><rect x="58.42" y="434.04" width="6.90" height="5.61" fill="#fff"/><rect x="68.03" y="434.04" width="6.90" height="5.61" fill="#fff"/>
<text x="93.30" y="417.50" font-size="21" text-anchor="start">1</text><rect x="94.14" y="414.98" width="4.39" height="3.57" fill="#fff"/><rect x="100.25" y="414.98" width="4.39" height="3.57" fill="#fff"/>
<text x="93.80" y="503.00" font-size="33" text-anchor="end">10</text><rect x="58.42" y="499.04" width="6.90" height="5.61" fill="#fff"/><rect x="68.03" y="499.04" width="6.90" height="5.61" fill="#fff"/>
<text x="93.30" y="482.50" font-size="21" text-anchor="start">0</text>
<text x="93.80" y="568.00" font-size="33" text-anchor="end">10</text><rect x="58.42" y="564.04" width="6.90" height="5.61" fill="#fff"/><rect x="68.03" y="564.04" width="6.90" height="5.61" fill="#fff"/>
<text x="93.30" y="547.50" font-size="21" text-anchor="start">−1</text><rect x="106.40" y="544.98" width="4.39" height="3.57" fill="#fff"/><rect x="112.51" y="544.98" width="4.39" height="3.57" fill="#fff"/>
<text x="93.80" y="633.00" font-size="33" text-anchor="end">10</text><rect x="58.42" y="629.04" width="6.90" height="5.61" fill="#fff"/><rect x="68.03" y="629.04" width="6.90" height="5.61" fill="#fff"/>
<text x="93.30" y="612.50" font-size="21" text-anchor="start">−2</text>
<text x="102.36" y="677.00" font-size="33" text-anchor="start">1.5</text><rect x="103.68" y="673.04" width="6.90" height="5.61" fill="#fff"/><rect x="113.29" y="673.04" width="6.90" height="5.61" fill="#fff"/>
<rect x="84.35" y="667.40" width="16.40" height="1.90" fill="#1a1a1a"/>
<text x="234.49" y="677.00" font-size="33" text-anchor="start">1</text><rect x="235.81" y="673.04" width="6.90" height="5.61" fill="#fff"/><rect x="245.41" y="673.04" width="6.90" height="5.61" fill="#fff"/>
<rect x="216.48" y="667.40" width="16.40" height="1.90" fill="#1a1a1a"/>
<text x="339.09" y="677.00" font-size="33" text-anchor="start">0.5</text>
<rect x="321.08" y="667.40" width="16.40" height="1.90" fill="#1a1a1a"/>
<text x="471.22" y="677.00" font-size="33" text-anchor="start">0</text>
<rect x="643.40" y="425.50" width="352.90" height="214.30" fill="none" stroke="#111" stroke-width="1.3"/>
<line x1="761.03" y1="639.80" x2="761.03" y2="636.20" stroke="#111" stroke-width="1.20"/>
<line x1="761.03" y1="425.50" x2="761.03" y2="429.10" stroke="#111" stroke-width="1.20"/>
<line x1="878.67" y1="639.80" x2="878.67" y2="636.20" stroke="#111" stroke-width="1.20"/>
<line x1="878.67" y1="425.50" x2="878.67" y2="429.10" stroke="#111" stroke-width="1.20"/>
<line x1="643.40" y1="490.50" x2="647.20" y2="490.50" stroke="#111" stroke-width="1.20"/>
<line x1="996.30" y1="490.50" x2="992.50" y2="490.50" stroke="#111" stroke-width="1.20"/>
<line x1="643.40" y1="555.50" x2="647.20" y2="555.50" stroke="#111" stroke-width="1.20"/>
<line x1="996.30" y1="555.50" x2="992.50" y2="555.50" stroke="#111" stroke-width="1.20"/>
<line x1="643.40" y1="620.50" x2="647.20" y2="620.50" stroke="#111" stroke-width="1.20"/>
<line x1="996.30" y1="620.50" x2="992.50" y2="620.50" stroke="#111" stroke-width="1.20"/>
<line x1="643.40" y1="470.93" x2="645.40" y2="470.93" stroke="#111" stroke-width="1.20"/>
<line x1="996.30" y1="470.93" x2="994.30" y2="470.93" stroke="#111" stroke-width="1.20"/>
<line x1="643.40" y1="459.49" x2="645.40" y2="459.49" stroke="#111" stroke-width="1.20"/>
<line x1="996.30" y1="459.49" x2="994.30" y2="459.49" stroke="#111" stroke-width="1.20"/>
<line x1="643.40" y1="451.37" x2="645.40" y2="451.37" stroke="#111" stroke-width="1.20"/>
<line x1="996.30" y1="451.37" x2="994.30" y2="451.37" stroke="#111" stroke-width="1.20"/>
<line x1="643.40" y1="445.07" x2="645.40" y2="445.07" stroke="#111" stroke-width="1.20"/>
<line x1="996.30" y1="445.07" x2="994.30" y2="445.07" stroke="#111" stroke-width="1.20"/>
<line x1="643.40" y1="439.92" x2="645.40" y2="439.92" stroke="#111" stroke-width="1.20"/>
<line x1="996.30" y1="439.92" x2="994.30" y2="439.92" stroke="#111" stroke-width="1.20"/>
<line x1="643.40" y1="435.57" x2="645.40" y2="435.57" stroke="#111" stroke-width="1.20"/>
<line x1="996.30" y1="435.57" x2="994.30" y2="435.57" stroke="#111" stroke-width="1.20"/>
<line x1="643.40" y1="431.80" x2="645.40" y2="431.80" stroke="#111" stroke-width="1.20"/>
<line x1="996.30" y1="431.80" x2="994.30" y2="431.80" stroke="#111" stroke-width="1.20"/>
<line x1="643.40" y1="428.47" x2="645.40" y2="428.47" stroke="#111" stroke-width="1.20"/>
<line x1="996.30" y1="428.47" x2="994.30" y2="428.47" stroke="#111" stroke-width="1.20"/>
<line x1="643.40" y1="535.93" x2="645.40" y2="535.93" stroke="#111" stroke-width="1.20"/>
<line x1="996.30" y1="535.93" x2="994.30" y2="535.93" stroke="#111" stroke-width="1.20"/>
<line x1="643.40" y1="524.49" x2="645.40" y2="524.49" stroke="#111" stroke-width="1.20"/>
<line x1="996.30" y1="524.49" x2="994.30" y2="524.49" stroke="#111" stroke-width="1.20"/>
<line x1="643.40" y1="516.37" x2="645.40" y2="516.37" stroke="#111" stroke-width="1.20"/>
<line x1="996.30" y1="516.37" x2="994.30" y2="516.37" stroke="#111" stroke-width="1.20"/>
<line x1="643.40" y1="510.07" x2="645.40" y2="510.07" stroke="#111" stroke-width="1.20"/>
<line x1="996.30" y1="510.07" x2="994.30" y2="510.07" stroke="#111" stroke-width="1.20"/>
<line x1="643.40" y1="504.92" x2="645.40" y2="504.92" stroke="#111" stroke-width="1.20"/>
<line x1="996.30" y1="504.92" x2="994.30" y2="504.92" stroke="#111" stroke-width="1.20"/>
<line x1="643.40" y1="500.57" x2="645.40" y2="500.57" stroke="#111" stroke-width="1.20"/>
<line x1="996.30" y1="500.57" x2="994.30" y2="500.57" stroke="#111" stroke-width="1.20"/>
<line x1="643.40" y1="496.80" x2="645.40" y2="496.80" stroke="#111" stroke-width="1.20"/>
<line x1="996.30" y1="496.80" x2="994.30" y2="496.80" stroke="#111" stroke-width="1.20"/>
<line x1="643.40" y1="493.47" x2="645.40" y2="493.47" stroke="#111" stroke-width="1.20"/>
<line x1="996.30" y1="493.47" x2="994.30" y2="493.47" stroke="#111" stroke-width="1.20"/>
<line x1="643.40" y1="600.93" x2="645.40" y2="600.93" stroke="#111" stroke-width="1.20"/>
<line x1="996.30" y1="600.93" x2="994.30" y2="600.93" stroke="#111" stroke-width="1.20"/>
<line x1="643.40" y1="589.49" x2="645.40" y2="589.49" stroke="#111" stroke-width="1.20"/>
<line x1="996.30" y1="589.49" x2="994.30" y2="589.49" stroke="#111" stroke-width="1.20"/>
<line x1="643.40" y1="581.37" x2="645.40" y2="581.37" stroke="#111" stroke-width="1.20"/>
<line x1="996.30" y1="581.37" x2="994.30" y2="581.37" stroke="#111" stroke-width="1.20"/>
<line x1="643.40" y1="575.07" x2="645.40" y2="575.07" stroke="#111" stroke-width="1.20"/>
<line x1="996.30" y1="575.07" x2="994.30" y2="575.07" stroke="#111" stroke-width="1.20"/>
<line x1="643.40" y1="569.92" x2="645.40" y2="569.92" stroke="#111" stroke-width="1.20"/>
<line x1="996.30" y1="569.92" x2="994.30" y2="569.92" stroke="#111" stroke-width="1.20"/>
<line x1="643.40" y1="565.57" x2="645.40" y2="565.57" stroke="#111" stroke-width="1.20"/>
<line x1="996.30" y1="565.57" x2="994.30" y2="565.57" stroke="#111" stroke-width="1.20"/>
<line x1="643.40" y1="561.80" x2="645.40" y2="561.80" stroke="#111" stroke-width="1.20"/>
<line x1="996.30" y1="561.80" x2="994.30" y2="561.80" stroke="#111" stroke-width="1.20"/>
<line x1="643.40" y1="558.47" x2="645.40" y2="558.47" stroke="#111" stroke-width="1.20"/>
<line x1="996.30" y1="558.47" x2="994.30" y2="558.47" stroke="#111" stroke-width="1.20"/>
<line x1="643.40" y1="634.92" x2="645.40" y2="634.92" stroke="#111" stroke-width="1.20"/>
<line x1="996.30" y1="634.92" x2="994.30" y2="634.92" stroke="#111" stroke-width="1.20"/>
<line x1="643.40" y1="630.57" x2="645.40" y2="630.57" stroke="#111" stroke-width="1.20"/>
<line x1="996.30" y1="630.57" x2="994.30" y2="630.57" stroke="#111" stroke-width="1.20"/>
<line x1="643.40" y1="626.80" x2="645.40" y2="626.80" stroke="#111" stroke-width="1.20"/>
<line x1="996.30" y1="626.80" x2="994.30" y2="626.80" stroke="#111" stroke-width="1.20"/>
<line x1="643.40" y1="623.47" x2="645.40" y2="623.47" stroke="#111" stroke-width="1.20"/>
<line x1="996.30" y1="623.47" x2="994.30" y2="623.47" stroke="#111" stroke-width="1.20"/>
<text x="610.30" y="438.00" font-size="33" text-anchor="end">10</text><rect x="574.92" y="434.04" width="6.90" height="5.61" fill="#fff"/><rect x="584.53" y="434.04" width="6.90" height="5.61" fill="#fff"/>
<text x="609.80" y="417.50" font-size="21" text-anchor="start">1</text><rect x="610.64" y="414.98" width="4.39" height="3.57" fill="#fff"/><rect x="616.75" y="414.98" width="4.39" height="3.57" fill="#fff"/>
<text x="610.30" y="503.00" font-size="33" text-anchor="end">10</text><rect x="574.92" y="499.04" width="6.90" height="5.61" fill="#fff"/><rect x="584.53" y="499.04" width="6.90" height="5.61" fill="#fff"/>
<text x="609.80" y="482.50" font-size="21" text-anchor="start">0</text>
<text x="610.30" y="568.00" font-size="33" text-anchor="end">10</text><rect x="574.92" y="564.04" width="6.90" height="5.61" fill="#fff"/><rect x="584.53" y="564.04" width="6.90" height="5.61" fill="#fff"/>
<text x="609.80" y="547.50" font-size="21" text-anchor="start">−1</text><rect x="622.90" y="544.98" width="4.39" height="3.57" fill="#fff"/><rect x="629.01" y="544.98" width="4.39" height="3.57" fill="#fff"/>
<text x="610.30" y="633.00" font-size="33" text-anchor="end">10</text><rect x="574.92" y="629.04" width="6.90" height="5.61" fill="#fff"/><rect x="584.53" y="629.04" width="6.90" height="5.61" fill="#fff"/>
<text x="609.80" y="612.50" font-size="21" text-anchor="start">−2</text>
<text x="620.46" y="677.00" font-size="33" text-anchor="start">1.5</text><rect x="621.78" y="673.04" width="6.90" height="5.61" fill="#fff"/><rect x="631.39" y="673.04" width="6.90" height="5.61" fill="#fff"/>
<rect x="602.45" y="667.40" width="16.40" height="1.90" fill="#1a1a1a"/>
<text x="751.86" y="677.00" font-size="33" text-anchor="start">1</text><rect x="753.18" y="673.04" width="6.90" height="5.61" fill="#fff"/><rect x="762.78" y="673.04" width="6.90" height="5.61" fill="#fff"/>
<rect x="733.85" y="667.40" width="16.40" height="1.90" fill="#1a1a1a"/>
<text x="855.73" y="677.00" font-size="33" text-anchor="start">0.5</text>
<rect x="837.72" y="667.40" width="16.40" height="1.90" fill="#1a1a1a"/>
<text x="987.13" y="677.00" font-size="33" text-anchor="start">0</text>
<rect x="128.10" y="752.60" width="354.10" height="227.70" fill="none" stroke="#111" stroke-width="1.3"/>
<line x1="269.74" y1="980.30" x2="269.74" y2="976.70" stroke="#111" stroke-width="1.20"/>
<line x1="269.74" y1="752.60" x2="269.74" y2="756.20" stroke="#111" stroke-width="1.20"/>
<line x1="411.38" y1="980.30" x2="411.38" y2="976.70" stroke="#111" stroke-width="1.20"/>
<line x1="411.38" y1="752.60" x2="411.38" y2="756.20" stroke="#111" stroke-width="1.20"/>
<line x1="128.10" y1="866.45" x2="131.90" y2="866.45" stroke="#111" stroke-width="1.20"/>
<line x1="482.20" y1="866.45" x2="478.40" y2="866.45" stroke="#111" stroke-width="1.20"/>
<text x="118.93" y="1017.30" font-size="33" text-anchor="start">2</text>
<rect x="100.91" y="1007.70" width="16.40" height="1.90" fill="#1a1a1a"/>
<text x="246.81" y="1017.30" font-size="33" text-anchor="start">1.5</text><rect x="248.12" y="1013.34" width="6.90" height="5.61" fill="#fff"/><rect x="257.73" y="1013.34" width="6.90" height="5.61" fill="#fff"/>
<rect x="228.79" y="1007.70" width="16.40" height="1.90" fill="#1a1a1a"/>
<text x="402.21" y="1017.30" font-size="33" text-anchor="start">1</text><rect x="403.53" y="1013.34" width="6.90" height="5.61" fill="#fff"/><rect x="413.13" y="1013.34" width="6.90" height="5.61" fill="#fff"/>
<rect x="384.19" y="1007.70" width="16.40" height="1.90" fill="#1a1a1a"/>
<text x="450.09" y="1017.30" font-size="33" text-anchor="start">0.75</text>
<rect x="432.08" y="1007.70" width="16.40" height="1.90" fill="#1a1a1a"/>
<text x="121.00" y="765.10" font-size="33" text-anchor="end">0.15</text><rect x="85.62" y="761.14" width="6.90" height="5.61" fill="#fff"/><rect x="95.23" y="761.14" width="6.90" height="5.61" fill="#fff"/>
<text x="121.00" y="878.95" font-size="33" text-anchor="end">0</text>
<text x="121.00" y="992.80" font-size="33" text-anchor="end">0.15</text><rect x="85.62" y="988.84" width="6.90" height="5.61" fill="#fff"/><rect x="95.23" y="988.84" width="6.90" height="5.61" fill="#fff"/>
<rect x="38.77" y="983.20" width="16.40" height="1.90" fill="#1a1a1a"/>
<rect x="643.80" y="759.80" width="352.80" height="221.20" fill="none" stroke="#111" stroke-width="1.3"/>
<line x1="820.20" y1="981.00" x2="820.20" y2="977.40" stroke="#111" stroke-width="1.20"/>
<line x1="820.20" y1="759.80" x2="820.20" y2="763.40" stroke="#111" stroke-width="1.20"/>
<line x1="643.80" y1="870.40" x2="647.60" y2="870.40" stroke="#111" stroke-width="1.20"/>
<line x1="996.60" y1="870.40" x2="992.80" y2="870.40" stroke="#111" stroke-width="1.20"/>
<text x="620.87" y="1019.00" font-size="33" text-anchor="start">0.4</text>
<text x="797.27" y="1019.00" font-size="33" text-anchor="start">0.5</text>
<text x="973.66" y="1019.00" font-size="33" text-anchor="start">0.6</text>
<text x="636.40" y="772.30" font-size="33" text-anchor="end">0.15</text><rect x="601.02" y="768.34" width="6.90" height="5.61" fill="#fff"/><rect x="610.63" y="768.34" width="6.90" height="5.61" fill="#fff"/>
<text x="636.40" y="882.90" font-size="33" text-anchor="end">0</text>
<text x="636.40" y="993.50" font-size="33" text-anchor="end">0.15</text><rect x="601.02" y="989.54" width="6.90" height="5.61" fill="#fff"/><rect x="610.63" y="989.54" width="6.90" height="5.61" fill="#fff"/>
<rect x="554.17" y="983.90" width="16.40" height="1.90" fill="#1a1a1a"/>
<text x="527.80" y="383.20" font-size="32">β</text>
<text x="545.80" y="383.20" font-size="33">/</text>
<text x="0" y="0" font-size="28" class="g" transform="translate(555.40 383.20) scale(1.24 1)">ω</text>
<text x="577.60" y="399.50" font-size="25">m</text>
<text x="266.10" y="692.30" font-size="32" class="g">Δ</text>
<text x="286.50" y="692.30" font-size="33">/</text>
<text x="0" y="0" font-size="28" class="g" transform="translate(296.20 692.30) scale(1.24 1)">ω</text>
<text x="318.10" y="709.40" font-size="25">m</text>
<text x="781.70" y="697.20" font-size="32" class="g">Δ</text>
<text x="802.10" y="697.20" font-size="33">/</text>
<text x="0" y="0" font-size="28" class="g" transform="translate(811.80 697.20) scale(1.24 1)">ω</text>
<text x="833.70" y="714.30" font-size="25">m</text>
<text x="272.60" y="1048.20" font-size="32" class="g">Δ</text>
<text x="293.00" y="1048.20" font-size="33">/</text>
<text x="0" y="0" font-size="28" class="g" transform="translate(302.70 1048.20) scale(1.24 1)">ω</text>
<text x="324.60" y="1064.30" font-size="25">m</text>
<text x="819.60" y="1048.70" font-size="32" class="g">Δ</text>
<text x="840.00" y="1048.70" font-size="33">/</text>
<text x="0" y="0" font-size="28" class="g" transform="translate(849.70 1048.70) scale(1.24 1)">ω</text>
<text x="871.60" y="1065.30" font-size="25">m</text>
<g transform="rotate(-90 49.50 900.50)"><text x="47.50" y="900.50" font-size="32">β</text><text x="65.90" y="900.50" font-size="33">/</text><text x="0" y="0" font-size="28" class="g" transform="translate(75.00 900.50) scale(1.24 1)">ω</text><text x="97.50" y="916.70" font-size="25">m</text></g>
<g transform="rotate(-90 570.30 904.20)"><text x="568.30" y="904.20" font-size="32">β</text><text x="586.70" y="904.20" font-size="33">/</text><text x="0" y="0" font-size="28" class="g" transform="translate(595.80 904.20) scale(1.24 1)">ω</text><text x="618.30" y="920.40" font-size="25">m</text></g>
<text x="35.80" y="173.60" font-size="32.5" text-anchor="middle" transform="rotate(-90 35.80 173.60)">A/B</text>
<text x="37.40" y="533.40" font-size="32.5" text-anchor="middle" transform="rotate(-90 37.40 533.40)">A/B</text>
<text x="570.50" y="539.00" font-size="32.5" text-anchor="middle" transform="rotate(-90 570.50 539.00)">A/B</text>
<text x="223.20" y="66.20" font-size="33" text-anchor="start">(a)</text>
<text x="130.70" y="540.50" font-size="33" text-anchor="start">(b)</text>
<text x="904.80" y="617.30" font-size="33" text-anchor="start">(c)</text>
<text x="134.70" y="878.80" font-size="33" text-anchor="start">(d)</text>
<text x="909.70" y="878.60" font-size="33" text-anchor="start">(e)</text>
</svg></body></html>
